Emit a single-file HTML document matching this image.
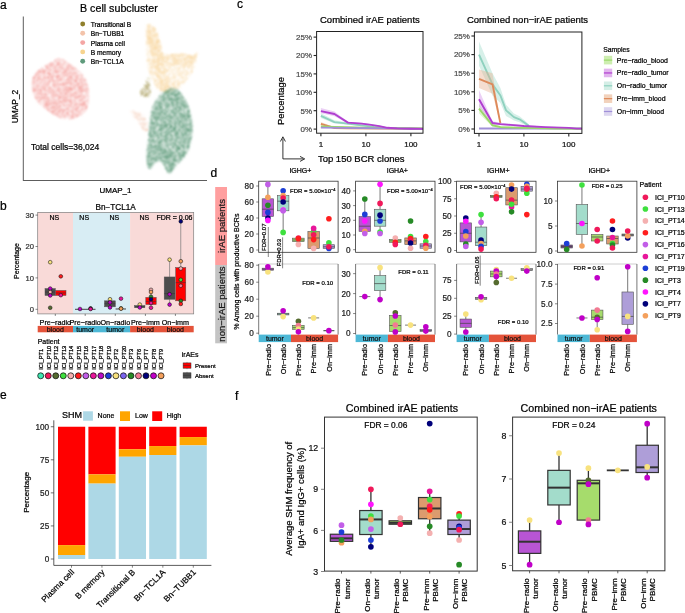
<!DOCTYPE html>
<html><head><meta charset="utf-8"><style>
html,body{margin:0;padding:0;background:#fff;width:685px;height:613px;overflow:hidden}
svg{display:block;will-change:transform}
text{font-family:"Liberation Sans",sans-serif}
</style></head><body>
<svg width="685" height="613" viewBox="0 0 685 613">
<defs><filter id="sp42_1" x="0" y="0" width="685" height="613" filterUnits="userSpaceOnUse"><feTurbulence type="fractalNoise" baseFrequency="1.3" numOctaves="1" seed="1" result="n"/><feColorMatrix in="n" type="matrix" values="0 0 0 0 0  0 0 0 0 0  0 0 0 0 0  0 0 0 5 -2.08" result="m"/><feComposite in="SourceGraphic" in2="m" operator="in" result="c"/><feGaussianBlur in="c" stdDeviation="0.95"/></filter><filter id="sp16_2" x="0" y="0" width="685" height="613" filterUnits="userSpaceOnUse"><feTurbulence type="fractalNoise" baseFrequency="1.3" numOctaves="1" seed="2" result="n"/><feColorMatrix in="n" type="matrix" values="0 0 0 0 0  0 0 0 0 0  0 0 0 0 0  0 0 0 5 -2.34" result="m"/><feComposite in="SourceGraphic" in2="m" operator="in" result="c"/><feGaussianBlur in="c" stdDeviation="0.95"/></filter><filter id="sp32_3" x="0" y="0" width="685" height="613" filterUnits="userSpaceOnUse"><feTurbulence type="fractalNoise" baseFrequency="1.3" numOctaves="1" seed="3" result="n"/><feColorMatrix in="n" type="matrix" values="0 0 0 0 0  0 0 0 0 0  0 0 0 0 0  0 0 0 5 -2.18" result="m"/><feComposite in="SourceGraphic" in2="m" operator="in" result="c"/><feGaussianBlur in="c" stdDeviation="0.95"/></filter><filter id="sp28_4" x="0" y="0" width="685" height="613" filterUnits="userSpaceOnUse"><feTurbulence type="fractalNoise" baseFrequency="1.3" numOctaves="1" seed="4" result="n"/><feColorMatrix in="n" type="matrix" values="0 0 0 0 0  0 0 0 0 0  0 0 0 0 0  0 0 0 5 -2.22" result="m"/><feComposite in="SourceGraphic" in2="m" operator="in" result="c"/><feGaussianBlur in="c" stdDeviation="0.95"/></filter><filter id="sp30_5" x="0" y="0" width="685" height="613" filterUnits="userSpaceOnUse"><feTurbulence type="fractalNoise" baseFrequency="1.3" numOctaves="1" seed="5" result="n"/><feColorMatrix in="n" type="matrix" values="0 0 0 0 0  0 0 0 0 0  0 0 0 0 0  0 0 0 5 -2.20" result="m"/><feComposite in="SourceGraphic" in2="m" operator="in" result="c"/><feGaussianBlur in="c" stdDeviation="0.95"/></filter><filter id="sp20_6" x="0" y="0" width="685" height="613" filterUnits="userSpaceOnUse"><feTurbulence type="fractalNoise" baseFrequency="1.3" numOctaves="1" seed="6" result="n"/><feColorMatrix in="n" type="matrix" values="0 0 0 0 0  0 0 0 0 0  0 0 0 0 0  0 0 0 5 -2.30" result="m"/><feComposite in="SourceGraphic" in2="m" operator="in" result="c"/><feGaussianBlur in="c" stdDeviation="0.95"/></filter><filter id="sp62_7" x="0" y="0" width="685" height="613" filterUnits="userSpaceOnUse"><feTurbulence type="fractalNoise" baseFrequency="1.3" numOctaves="1" seed="7" result="n"/><feColorMatrix in="n" type="matrix" values="0 0 0 0 0  0 0 0 0 0  0 0 0 0 0  0 0 0 5 -1.88" result="m"/><feComposite in="SourceGraphic" in2="m" operator="in" result="c"/><feGaussianBlur in="c" stdDeviation="0.95"/></filter></defs>
<rect width="685" height="613" fill="#fff"/>
<text x="0" y="8.5" font-size="12" stroke="#000" stroke-width="0.22">a</text>
<text x="80" y="12" font-size="10.7" stroke="#000" stroke-width="0.22">B cell subcluster</text>
<line x1="23.3" y1="16.5" x2="23.3" y2="180.8" stroke="#333" stroke-width="0.8"/>
<line x1="23.3" y1="180.5" x2="207" y2="180.5" stroke="#333" stroke-width="0.8"/>
<text x="17.5" y="106.5" font-size="8.4" text-anchor="middle" transform="rotate(-90 17.5 106.5)" stroke="#000" stroke-width="0.22">UMAP_2</text>
<text x="115.5" y="192.5" font-size="8" text-anchor="middle" stroke="#000" stroke-width="0.22">UMAP_1</text>
<text x="31" y="149.7" font-size="8.5" stroke="#000" stroke-width="0.22">Total cells=36,024</text>
<path d="M60,58 C63.33,58.17 66.83,61.83 70,64 C73.17,66.17 76.33,68.33 79,71 C81.67,73.67 84.33,76.33 86,80 C87.67,83.67 88.67,88.83 89,93 C89.33,97.17 88.83,101.67 88,105 C87.17,108.33 86.67,110.67 84,113 C81.33,115.33 76.33,118.33 72,119 C67.67,119.67 62.33,118.67 58,117 C53.67,115.33 49.67,111.83 46,109 C42.33,106.17 38.33,103.5 36,100 C33.67,96.5 32.5,91.83 32,88 C31.5,84.17 31.67,80.17 33,77 C34.33,73.83 37.17,71.33 40,69 C42.83,66.67 46.67,64.83 50,63 C53.33,61.17 56.67,57.83 60,58 Z" fill="#f39a96" filter="url(#sp42_1)"/>
<path d="M146,27 C146.67,24.25 148.38,24.17 150,24.5 C151.62,24.83 153.87,25.92 155.7,29 C157.53,32.08 159.62,38.83 161,43 C162.38,47.17 160.67,52.25 164,54 C167.33,55.75 176.17,53.25 181,53.5 C185.83,53.75 190.25,55.72 193,55.5 C195.75,55.28 197.08,51.12 197.5,52.2 C197.92,53.28 196.25,58.87 195.5,62 C194.75,65.13 194.52,67.95 193,71 C191.48,74.05 188.6,77.47 186.4,80.3 C184.2,83.13 182.53,86.05 179.8,88 C177.07,89.95 173.3,91.5 170,92 C166.7,92.5 163,93 160,91 C157,89 154.17,84.5 152,80 C149.83,75.5 148,70.5 147,64 C146,57.5 146.17,47.17 146,41 C145.83,34.83 145.33,29.75 146,27 Z" fill="#f8d49a" filter="url(#sp16_2)"/>
<path d="M147,27 C147.5,25.08 148.67,24.33 150,24.5 C151.33,24.67 153.67,26.08 155,28 C156.33,29.92 157,32.67 158,36 C159,39.33 160,43.67 161,48 C162,52.33 162.83,57 164,62 C165.17,67 166.83,73.33 168,78 C169.17,82.67 172,87.83 171,90 C170,92.17 164.33,93 162,91 C159.67,89 158.5,82.83 157,78 C155.5,73.17 154.17,67 153,62 C151.83,57 151,52.33 150,48 C149,43.67 147.5,39.5 147,36 C146.5,32.5 146.5,28.92 147,27 Z" fill="#f8d49a" filter="url(#sp32_3)"/>
<path d="M164,56 C166.67,54.58 176.17,53.58 181,53.5 C185.83,53.42 190.25,55.72 193,55.5 C195.75,55.28 197.17,51.45 197.5,52.2 C197.83,52.95 196.25,57.53 195,60 C193.75,62.47 192.5,66.17 190,67 C187.5,67.83 183.33,65.33 180,65 C176.67,64.67 172.5,65.5 170,65 C167.5,64.5 166,63.5 165,62 C164,60.5 161.33,57.42 164,56 Z" fill="#f8d49a" filter="url(#sp28_4)"/>
<path d="M148.5,76.5 C149.5,76.17 149.58,81.42 150,84 C150.42,86.58 151.33,89.83 151,92 C150.67,94.17 149.5,96.33 148,97 C146.5,97.67 143.33,96.83 142,96 C140.67,95.17 139.67,93.67 140,92 C140.33,90.33 142.58,88.58 144,86 C145.42,83.42 147.5,76.83 148.5,76.5 Z" fill="#8f7f2b" filter="url(#sp30_5)"/>
<path d="M131,110 C132.33,109.83 137.33,111.33 140,113 C142.67,114.67 145.67,117.17 147,120 C148.33,122.83 148.5,128.17 148,130 C147.5,131.83 145.67,132.33 144,131 C142.33,129.67 140,124.83 138,122 C136,119.17 133.17,116 132,114 C130.83,112 129.67,110.17 131,110 Z" fill="#f3c3aa" filter="url(#sp20_6)"/>
<path d="M172,88 C175.33,87.5 177.33,89.17 180,92 C182.67,94.83 185.88,99.5 188,105 C190.12,110.5 192.2,118.83 192.7,125 C193.2,131.17 192.12,137 191,142 C189.88,147 188.5,151 186,155 C183.5,159 178.92,162.92 176,166 C173.08,169.08 171.17,174.33 168.5,173.5 C165.83,172.67 163.25,161.75 160,161 C156.75,160.25 151.25,170 149,169 C146.75,168 146.67,159.83 146.5,155 C146.33,150.17 147.48,145 148,140 C148.52,135 148.93,130.33 149.6,125 C150.27,119.67 150.27,113 152,108 C153.73,103 156.67,98.33 160,95 C163.33,91.67 168.67,88.5 172,88 Z" fill="#5f9b7c" filter="url(#sp62_7)"/>
<circle cx="82.7" cy="24" r="2.45" fill="#8f7f2b"/>
<text x="90.7" y="26.9" font-size="6.7" stroke="#000" stroke-width="0.22">Transitional B</text>
<circle cx="82.7" cy="33.3" r="2.45" fill="#f3c3aa"/>
<text x="90.7" y="36.2" font-size="6.7" stroke="#000" stroke-width="0.22">Bn−TUBB1</text>
<circle cx="82.7" cy="42.6" r="2.45" fill="#f4a6a4"/>
<text x="90.7" y="45.5" font-size="6.7" stroke="#000" stroke-width="0.22">Plasma cell</text>
<circle cx="82.7" cy="51.9" r="2.45" fill="#f7d48e"/>
<text x="90.7" y="54.8" font-size="6.7" stroke="#000" stroke-width="0.22">B memory</text>
<circle cx="82.7" cy="61.2" r="2.45" fill="#5f9b7c"/>
<text x="90.7" y="64.1" font-size="6.7" stroke="#000" stroke-width="0.22">Bn−TCL1A</text>
<text x="0" y="209.5" font-size="12" stroke="#000" stroke-width="0.22">b</text>
<text x="115.7" y="210.3" font-size="8.2" text-anchor="middle" stroke="#000" stroke-width="0.22">Bn−TCL1A</text>
<rect x="37.7" y="212.4" width="35.3" height="101.5" fill="#f9dad8"/>
<rect x="73" y="212.4" width="57.1" height="101.5" fill="#d8edf4"/>
<rect x="130.1" y="212.4" width="63.6" height="101.5" fill="#f9dad8"/>
<rect x="37.7" y="212.4" width="156" height="101.5" fill="none" stroke="#7f7f7f" stroke-width="0.7"/>
<line x1="35.5" y1="309.3" x2="37.7" y2="309.3" stroke="#333" stroke-width="0.6"/>
<text x="34" y="312" font-size="7.6" text-anchor="end" fill="#333" stroke="#333" stroke-width="0.22">0</text>
<line x1="35.5" y1="277.9" x2="37.7" y2="277.9" stroke="#333" stroke-width="0.6"/>
<text x="34" y="280.6" font-size="7.6" text-anchor="end" fill="#333" stroke="#333" stroke-width="0.22">10</text>
<line x1="35.5" y1="246.5" x2="37.7" y2="246.5" stroke="#333" stroke-width="0.6"/>
<text x="34" y="249.2" font-size="7.6" text-anchor="end" fill="#333" stroke="#333" stroke-width="0.22">20</text>
<line x1="35.5" y1="215.1" x2="37.7" y2="215.1" stroke="#333" stroke-width="0.6"/>
<text x="34" y="217.8" font-size="7.6" text-anchor="end" fill="#333" stroke="#333" stroke-width="0.22">30</text>
<text x="19" y="261" font-size="7" text-anchor="middle" transform="rotate(-90 19 261)" stroke="#000" stroke-width="0.22">Percentage</text>
<line x1="55.3" y1="313.9" x2="55.3" y2="315.9" stroke="#333" stroke-width="0.6"/>
<line x1="85.2" y1="313.9" x2="85.2" y2="315.9" stroke="#333" stroke-width="0.6"/>
<line x1="115.3" y1="313.9" x2="115.3" y2="315.9" stroke="#333" stroke-width="0.6"/>
<line x1="145.4" y1="313.9" x2="145.4" y2="315.9" stroke="#333" stroke-width="0.6"/>
<line x1="175.4" y1="313.9" x2="175.4" y2="315.9" stroke="#333" stroke-width="0.6"/>
<text x="54.3" y="220" font-size="7" text-anchor="middle" stroke="#000" stroke-width="0.22">NS</text>
<text x="84.2" y="220" font-size="7" text-anchor="middle" stroke="#000" stroke-width="0.22">NS</text>
<text x="114.3" y="220" font-size="7" text-anchor="middle" stroke="#000" stroke-width="0.22">NS</text>
<text x="144.4" y="220" font-size="7" text-anchor="middle" stroke="#000" stroke-width="0.22">NS</text>
<text x="174.5" y="220" font-size="7" text-anchor="middle" stroke="#000" stroke-width="0.22">FDR = 0.06</text>
<text x="55.3" y="324.8" font-size="7.2" text-anchor="middle" stroke="#000" stroke-width="0.22">Pre−radio</text>
<text x="85.2" y="324.8" font-size="7.2" text-anchor="middle" stroke="#000" stroke-width="0.22">Pre−radio</text>
<text x="115.3" y="324.8" font-size="7.2" text-anchor="middle" stroke="#000" stroke-width="0.22">On−radio</text>
<text x="145.4" y="324.8" font-size="7.2" text-anchor="middle" stroke="#000" stroke-width="0.22">Pre−imm</text>
<text x="175.4" y="324.8" font-size="7.2" text-anchor="middle" stroke="#000" stroke-width="0.22">On−imm</text>
<rect x="37.7" y="325.9" width="35.3" height="6.4" fill="#e4533a"/>
<rect x="73" y="325.9" width="57.1" height="6.4" fill="#4db8d6"/>
<rect x="130.1" y="325.9" width="63.6" height="6.4" fill="#e4533a"/>
<text x="55.3" y="331.6" font-size="7" text-anchor="middle" fill="#111" stroke="#111" stroke-width="0.22">blood</text>
<text x="85.2" y="331.6" font-size="7" text-anchor="middle" fill="#111" stroke="#111" stroke-width="0.22">tumor</text>
<text x="115.3" y="331.6" font-size="7" text-anchor="middle" fill="#111" stroke="#111" stroke-width="0.22">tumor</text>
<text x="145.4" y="331.6" font-size="7" text-anchor="middle" fill="#111" stroke="#111" stroke-width="0.22">blood</text>
<text x="175.4" y="331.6" font-size="7" text-anchor="middle" fill="#111" stroke="#111" stroke-width="0.22">blood</text>
<rect x="45" y="288.58" width="10.3" height="6.91" fill="#4d4d4d" stroke="#555" stroke-width="0.5"/>
<line x1="45" y1="292.03" x2="55.3" y2="292.03" stroke="#333" stroke-width="0.5"/>
<rect x="55.6" y="290.46" width="10.4" height="5.02" fill="#ff0000" stroke="#555" stroke-width="0.5"/>
<line x1="55.6" y1="292.97" x2="66" y2="292.97" stroke="#333" stroke-width="0.5"/>
<circle cx="50.2" cy="262.2" r="1.85" fill="#f8e27e" stroke="#111" stroke-width="0.55"/>
<circle cx="50.2" cy="288.58" r="1.85" fill="#c000c8" stroke="#111" stroke-width="0.55"/>
<circle cx="50.2" cy="292.03" r="1.85" fill="#f4b0b0" stroke="#111" stroke-width="0.55"/>
<circle cx="50.2" cy="295.48" r="1.85" fill="#c000c8" stroke="#111" stroke-width="0.55"/>
<circle cx="50.2" cy="307.73" r="1.85" fill="#556b2f" stroke="#111" stroke-width="0.55"/>
<circle cx="60.8" cy="276.33" r="1.85" fill="#ff1e1e" stroke="#111" stroke-width="0.55"/>
<circle cx="60.8" cy="295.17" r="1.85" fill="#e8169a" stroke="#111" stroke-width="0.55"/>
<line x1="75" y1="309.3" x2="95.5" y2="309.3" stroke="#333" stroke-width="0.9"/>
<circle cx="80" cy="308.99" r="1.85" fill="#c000c8" stroke="#111" stroke-width="0.55"/>
<circle cx="90.6" cy="308.36" r="1.85" fill="#111" stroke="#111" stroke-width="0.55"/>
<circle cx="90.6" cy="308.99" r="1.85" fill="#e8169a" stroke="#111" stroke-width="0.55"/>
<line x1="109.9" y1="300.82" x2="109.9" y2="299.25" stroke="#777" stroke-width="0.7"/>
<line x1="109.9" y1="306.79" x2="109.9" y2="308.67" stroke="#777" stroke-width="0.7"/>
<rect x="104.5" y="300.82" width="10.8" height="5.97" fill="#4d4d4d" stroke="#555" stroke-width="0.5"/>
<line x1="104.5" y1="303.65" x2="115.3" y2="303.65" stroke="#333" stroke-width="0.5"/>
<circle cx="110" cy="299.25" r="1.85" fill="#f8e27e" stroke="#111" stroke-width="0.55"/>
<circle cx="110" cy="302.39" r="1.85" fill="#c000c8" stroke="#111" stroke-width="0.55"/>
<circle cx="110" cy="307.42" r="1.85" fill="#c000c8" stroke="#111" stroke-width="0.55"/>
<line x1="115.6" y1="308.99" x2="126" y2="308.99" stroke="#333" stroke-width="0.9"/>
<circle cx="121" cy="308.36" r="1.85" fill="#268a26" stroke="#111" stroke-width="0.55"/>
<circle cx="121" cy="308.67" r="1.85" fill="#f4a05c" stroke="#111" stroke-width="0.55"/>
<circle cx="121" cy="298.62" r="1.85" fill="#e8169a" stroke="#111" stroke-width="0.55"/>
<line x1="139.75" y1="305.53" x2="139.75" y2="304.59" stroke="#777" stroke-width="0.7"/>
<rect x="134.6" y="305.53" width="10.3" height="2.2" fill="#4d4d4d" stroke="#555" stroke-width="0.5"/>
<line x1="134.6" y1="306.79" x2="144.9" y2="306.79" stroke="#333" stroke-width="0.5"/>
<circle cx="139.8" cy="304.59" r="1.85" fill="#f8e27e" stroke="#111" stroke-width="0.55"/>
<circle cx="139.8" cy="307.42" r="1.85" fill="#c000c8" stroke="#111" stroke-width="0.55"/>
<line x1="151" y1="297.37" x2="151" y2="289.83" stroke="#777" stroke-width="0.7"/>
<line x1="151" y1="304.59" x2="151" y2="307.73" stroke="#777" stroke-width="0.7"/>
<rect x="145.8" y="297.37" width="10.4" height="7.22" fill="#ff0000" stroke="#555" stroke-width="0.5"/>
<line x1="145.8" y1="301.45" x2="156.2" y2="301.45" stroke="#333" stroke-width="0.5"/>
<circle cx="151" cy="289.83" r="1.85" fill="#f4b0b0" stroke="#111" stroke-width="0.55"/>
<circle cx="151" cy="292.03" r="1.85" fill="#f4a05c" stroke="#111" stroke-width="0.55"/>
<circle cx="151" cy="296.74" r="1.85" fill="#268a26" stroke="#111" stroke-width="0.55"/>
<circle cx="151" cy="299.25" r="1.85" fill="#00007a" stroke="#111" stroke-width="0.55"/>
<circle cx="151" cy="303.02" r="1.85" fill="#e8169a" stroke="#111" stroke-width="0.55"/>
<circle cx="151" cy="307.73" r="1.85" fill="#e8169a" stroke="#111" stroke-width="0.55"/>
<line x1="169.6" y1="276.96" x2="169.6" y2="259.69" stroke="#777" stroke-width="0.7"/>
<line x1="169.6" y1="299.25" x2="169.6" y2="304.59" stroke="#777" stroke-width="0.7"/>
<rect x="164.2" y="276.96" width="10.8" height="22.29" fill="#4d4d4d" stroke="#555" stroke-width="0.5"/>
<line x1="164.2" y1="293.6" x2="175" y2="293.6" stroke="#333" stroke-width="0.5"/>
<circle cx="169.6" cy="259.69" r="1.85" fill="#f8e27e" stroke="#111" stroke-width="0.55"/>
<circle cx="169.6" cy="294.23" r="1.85" fill="#c000c8" stroke="#111" stroke-width="0.55"/>
<circle cx="169.6" cy="304.59" r="1.85" fill="#c000c8" stroke="#111" stroke-width="0.55"/>
<line x1="180.75" y1="267.54" x2="180.75" y2="221.38" stroke="#777" stroke-width="0.7"/>
<line x1="180.75" y1="300.82" x2="180.75" y2="303.96" stroke="#777" stroke-width="0.7"/>
<rect x="175.7" y="267.54" width="10.1" height="33.28" fill="#ff0000" stroke="#555" stroke-width="0.5"/>
<line x1="175.7" y1="282.61" x2="185.8" y2="282.61" stroke="#333" stroke-width="0.5"/>
<circle cx="180.8" cy="221.38" r="1.85" fill="#00007a" stroke="#111" stroke-width="0.55"/>
<circle cx="180.8" cy="261.26" r="1.85" fill="#f4a05c" stroke="#111" stroke-width="0.55"/>
<circle cx="180.8" cy="268.48" r="1.85" fill="#f4b0b0" stroke="#111" stroke-width="0.55"/>
<circle cx="180.8" cy="279.78" r="1.85" fill="#3ee03e" stroke="#111" stroke-width="0.55"/>
<circle cx="180.8" cy="285.75" r="1.85" fill="#f27a92" stroke="#111" stroke-width="0.55"/>
<circle cx="180.8" cy="300.82" r="1.85" fill="#268a26" stroke="#111" stroke-width="0.55"/>
<circle cx="180.8" cy="303.96" r="1.85" fill="#ff1e1e" stroke="#111" stroke-width="0.55"/>
<text x="37.7" y="343.5" font-size="7" stroke="#000" stroke-width="0.22">Patient</text>
<text x="43" y="369.8" font-size="5.7" transform="rotate(-90 43 369.8)" stroke="#000" stroke-width="0.25">ICI_PT1</text>
<circle cx="40.7" cy="375.8" r="3" fill="#3ee6b0" stroke="#111" stroke-width="0.75"/>
<text x="50.52" y="369.8" font-size="5.7" transform="rotate(-90 50.52 369.8)" stroke="#000" stroke-width="0.25">ICI_PT10</text>
<circle cx="48.22" cy="375.8" r="3" fill="#f0195a" stroke="#111" stroke-width="0.75"/>
<text x="58.04" y="369.8" font-size="5.7" transform="rotate(-90 58.04 369.8)" stroke="#000" stroke-width="0.25">ICI_PT12</text>
<circle cx="55.74" cy="375.8" r="3" fill="#556b2f" stroke="#111" stroke-width="0.75"/>
<text x="65.56" y="369.8" font-size="5.7" transform="rotate(-90 65.56 369.8)" stroke="#000" stroke-width="0.25">ICI_PT13</text>
<circle cx="63.26" cy="375.8" r="3" fill="#3ee03e" stroke="#111" stroke-width="0.75"/>
<text x="73.08" y="369.8" font-size="5.7" transform="rotate(-90 73.08 369.8)" stroke="#000" stroke-width="0.25">ICI_PT14</text>
<circle cx="70.78" cy="375.8" r="3" fill="#f4b0b0" stroke="#111" stroke-width="0.75"/>
<text x="80.6" y="369.8" font-size="5.7" transform="rotate(-90 80.6 369.8)" stroke="#000" stroke-width="0.25">ICI_PT15</text>
<circle cx="78.3" cy="375.8" r="3" fill="#ff1e1e" stroke="#111" stroke-width="0.75"/>
<text x="88.12" y="369.8" font-size="5.7" transform="rotate(-90 88.12 369.8)" stroke="#000" stroke-width="0.25">ICI_PT16</text>
<circle cx="85.82" cy="375.8" r="3" fill="#c25ee8" stroke="#111" stroke-width="0.75"/>
<text x="95.64" y="369.8" font-size="5.7" transform="rotate(-90 95.64 369.8)" stroke="#000" stroke-width="0.25">ICI_PT17</text>
<circle cx="93.34" cy="375.8" r="3" fill="#e8169a" stroke="#111" stroke-width="0.75"/>
<text x="103.16" y="369.8" font-size="5.7" transform="rotate(-90 103.16 369.8)" stroke="#000" stroke-width="0.25">ICI_PT18</text>
<circle cx="100.86" cy="375.8" r="3" fill="#b80cc4" stroke="#111" stroke-width="0.75"/>
<text x="110.68" y="369.8" font-size="5.7" transform="rotate(-90 110.68 369.8)" stroke="#000" stroke-width="0.25">ICI_PT19</text>
<circle cx="108.38" cy="375.8" r="3" fill="#1c3ed6" stroke="#111" stroke-width="0.75"/>
<text x="118.2" y="369.8" font-size="5.7" transform="rotate(-90 118.2 369.8)" stroke="#000" stroke-width="0.25">ICI_PT2</text>
<circle cx="115.9" cy="375.8" r="3" fill="#f8e27e" stroke="#111" stroke-width="0.75"/>
<text x="125.72" y="369.8" font-size="5.7" transform="rotate(-90 125.72 369.8)" stroke="#000" stroke-width="0.25">ICI_PT20</text>
<circle cx="123.42" cy="375.8" r="3" fill="#7a64ee" stroke="#111" stroke-width="0.75"/>
<text x="133.24" y="369.8" font-size="5.7" transform="rotate(-90 133.24 369.8)" stroke="#000" stroke-width="0.25">ICI_PT3</text>
<circle cx="130.94" cy="375.8" r="3" fill="#268a26" stroke="#111" stroke-width="0.75"/>
<text x="140.76" y="369.8" font-size="5.7" transform="rotate(-90 140.76 369.8)" stroke="#000" stroke-width="0.25">ICI_PT6</text>
<circle cx="138.46" cy="375.8" r="3" fill="#f27a92" stroke="#111" stroke-width="0.75"/>
<text x="148.28" y="369.8" font-size="5.7" transform="rotate(-90 148.28 369.8)" stroke="#000" stroke-width="0.25">ICI_PT7</text>
<circle cx="145.98" cy="375.8" r="3" fill="#00007a" stroke="#111" stroke-width="0.75"/>
<text x="155.8" y="369.8" font-size="5.7" transform="rotate(-90 155.8 369.8)" stroke="#000" stroke-width="0.25">ICI_PT8</text>
<circle cx="153.5" cy="375.8" r="3" fill="#c000c8" stroke="#111" stroke-width="0.75"/>
<text x="163.32" y="369.8" font-size="5.7" transform="rotate(-90 163.32 369.8)" stroke="#000" stroke-width="0.25">ICI_PT9</text>
<circle cx="161.02" cy="375.8" r="3" fill="#f4a05c" stroke="#111" stroke-width="0.75"/>
<text x="181.8" y="356.6" font-size="7" stroke="#000" stroke-width="0.22">irAEs</text>
<line x1="187" y1="361.9" x2="187" y2="369.2" stroke="#888" stroke-width="0.6"/>
<rect x="183.1" y="362.9" width="7.9" height="5.3" fill="#ff0000" stroke="#333" stroke-width="0.5"/>
<line x1="183.1" y1="365.55" x2="191" y2="365.55" stroke="#333" stroke-width="0.5"/>
<text x="195" y="367.8" font-size="6" stroke="#000" stroke-width="0.22">Present</text>
<line x1="187" y1="371.8" x2="187" y2="379.1" stroke="#888" stroke-width="0.6"/>
<rect x="183.1" y="372.8" width="7.9" height="5.3" fill="#4d4d4d" stroke="#333" stroke-width="0.5"/>
<line x1="183.1" y1="375.45" x2="191" y2="375.45" stroke="#333" stroke-width="0.5"/>
<text x="195" y="377.7" font-size="6" stroke="#000" stroke-width="0.22">Absent</text>
<text x="0" y="398.5" font-size="12" stroke="#000" stroke-width="0.22">e</text>
<text x="61.9" y="417.9" font-size="9" stroke="#000" stroke-width="0.22">SHM</text>
<rect x="83.1" y="411.3" width="9.8" height="9.4" fill="#add8e6"/>
<text x="97.6" y="417.8" font-size="7" stroke="#000" stroke-width="0.22">None</text>
<rect x="120" y="411.3" width="10" height="9.7" fill="#ffa500"/>
<text x="135" y="417.8" font-size="7" stroke="#000" stroke-width="0.22">Low</text>
<rect x="152.2" y="411.3" width="10" height="9.7" fill="#ff0000"/>
<text x="166.8" y="417.8" font-size="7" stroke="#000" stroke-width="0.22">High</text>
<line x1="53.8" y1="420.3" x2="53.8" y2="565.4" stroke="#333" stroke-width="0.8"/>
<line x1="53.8" y1="565.4" x2="211.4" y2="565.4" stroke="#333" stroke-width="0.8"/>
<line x1="50.8" y1="559" x2="53.8" y2="559" stroke="#333" stroke-width="0.7"/>
<text x="49.2" y="561.9" font-size="8.2" text-anchor="end" fill="#222" stroke="#222" stroke-width="0.22">0</text>
<line x1="50.8" y1="525.93" x2="53.8" y2="525.93" stroke="#333" stroke-width="0.7"/>
<text x="49.2" y="528.83" font-size="8.2" text-anchor="end" fill="#222" stroke="#222" stroke-width="0.22">25</text>
<line x1="50.8" y1="492.87" x2="53.8" y2="492.87" stroke="#333" stroke-width="0.7"/>
<text x="49.2" y="495.77" font-size="8.2" text-anchor="end" fill="#222" stroke="#222" stroke-width="0.22">50</text>
<line x1="50.8" y1="459.81" x2="53.8" y2="459.81" stroke="#333" stroke-width="0.7"/>
<text x="49.2" y="462.7" font-size="8.2" text-anchor="end" fill="#222" stroke="#222" stroke-width="0.22">75</text>
<line x1="50.8" y1="426.74" x2="53.8" y2="426.74" stroke="#333" stroke-width="0.7"/>
<text x="49.2" y="429.64" font-size="8.2" text-anchor="end" fill="#222" stroke="#222" stroke-width="0.22">100</text>
<text x="29.5" y="492.3" font-size="8" text-anchor="middle" transform="rotate(-90 29.5 492.3)" stroke="#000" stroke-width="0.22">Percentage</text>
<rect x="58" y="426.74" width="27.2" height="118.37" fill="#ff0000"/>
<rect x="58" y="545.11" width="27.2" height="9.92" fill="#ffa500"/>
<rect x="58" y="555.03" width="27.2" height="3.97" fill="#add8e6"/>
<line x1="71.5" y1="565.4" x2="71.5" y2="567.7" stroke="#333" stroke-width="0.6"/>
<text x="74.7" y="572.8" font-size="8.3" text-anchor="end" transform="rotate(-45 74.7 572.8)" stroke="#000" stroke-width="0.22">Plasma cell</text>
<rect x="88.4" y="426.74" width="27.2" height="47.61" fill="#ff0000"/>
<rect x="88.4" y="474.35" width="27.2" height="9.26" fill="#ffa500"/>
<rect x="88.4" y="483.61" width="27.2" height="75.39" fill="#add8e6"/>
<line x1="101.95" y1="565.4" x2="101.95" y2="567.7" stroke="#333" stroke-width="0.6"/>
<text x="105.15" y="572.8" font-size="8.3" text-anchor="end" transform="rotate(-45 105.15 572.8)" stroke="#000" stroke-width="0.22">B memory</text>
<rect x="118.8" y="426.74" width="27.2" height="22.48" fill="#ff0000"/>
<rect x="118.8" y="449.22" width="27.2" height="7.54" fill="#ffa500"/>
<rect x="118.8" y="456.76" width="27.2" height="102.24" fill="#add8e6"/>
<line x1="132.4" y1="565.4" x2="132.4" y2="567.7" stroke="#333" stroke-width="0.6"/>
<text x="135.6" y="572.8" font-size="8.3" text-anchor="end" transform="rotate(-45 135.6 572.8)" stroke="#000" stroke-width="0.22">Transitional B</text>
<rect x="149.2" y="426.74" width="27.2" height="19.31" fill="#ff0000"/>
<rect x="149.2" y="446.05" width="27.2" height="8.99" fill="#ffa500"/>
<rect x="149.2" y="455.04" width="27.2" height="103.96" fill="#add8e6"/>
<line x1="162.85" y1="565.4" x2="162.85" y2="567.7" stroke="#333" stroke-width="0.6"/>
<text x="166.05" y="572.8" font-size="8.3" text-anchor="end" transform="rotate(-45 166.05 572.8)" stroke="#000" stroke-width="0.22">Bn−TCL1A</text>
<rect x="179.6" y="426.74" width="27.2" height="10.32" fill="#ff0000"/>
<rect x="179.6" y="437.06" width="27.2" height="8.33" fill="#ffa500"/>
<rect x="179.6" y="445.39" width="27.2" height="113.61" fill="#add8e6"/>
<line x1="193.3" y1="565.4" x2="193.3" y2="567.7" stroke="#333" stroke-width="0.6"/>
<text x="196.5" y="572.8" font-size="8.3" text-anchor="end" transform="rotate(-45 196.5 572.8)" stroke="#000" stroke-width="0.22">Bn−TUBB1</text>
<text x="237" y="7.5" font-size="12" stroke="#000" stroke-width="0.22">c</text>
<text x="369.9" y="22.5" font-size="9.5" text-anchor="middle" stroke="#000" stroke-width="0.22">Combined irAE patients</text>
<clipPath id="cp316"><rect x="316.6" y="31.5" width="106.4" height="101.7"/></clipPath>
<g clip-path="url(#cp316)">
<path d="M320.9,113.28 L334.45,120.27 L347.99,122.48 L361.54,124.68 L373.82,126.16 L387.37,127.63 L410.9,128.55 L424.45,128.73 L424.45,129.1 L410.9,128.92 L387.37,128.36 L373.82,127.26 L361.54,126.16 L347.99,124.68 L334.45,123.58 L320.9,118.06 Z" fill="#9fdccb" fill-opacity="0.42"/>
<path d="M320.9,115.85 L334.45,122.11 L347.99,123.58 L361.54,125.42 L373.82,126.89 L387.37,128 L410.9,128.73 L424.45,128.92" fill="none" stroke="#8fd1bf" stroke-width="1.9" stroke-linejoin="round"/>
<path d="M320.9,122.11 L334.45,127.26 L347.99,127.81 L424.45,128.55 L424.45,128.92 L347.99,128.55 L334.45,128.36 L320.9,125.42 Z" fill="#e8b090" fill-opacity="0.42"/>
<path d="M320.9,123.95 L334.45,128 L347.99,128.18 L424.45,128.73" fill="none" stroke="#dd8a5a" stroke-width="1.9" stroke-linejoin="round"/>
<path d="M320.9,125.42 L334.45,126.16 L365.9,127.26 L424.45,128.36 L424.45,128.73 L365.9,128 L334.45,127.44 L320.9,127.26 Z" fill="#b8e890" fill-opacity="0.42"/>
<path d="M320.9,126.52 L334.45,126.89 L365.9,127.63 L424.45,128.55" fill="none" stroke="#9ad86a" stroke-width="1.9" stroke-linejoin="round"/>
<path d="M320.9,127.26 L424.45,128.55 L424.45,128.92 L320.9,128 Z" fill="#c0b0e8" fill-opacity="0.42"/>
<path d="M320.9,127.63 L424.45,128.73" fill="none" stroke="#a090d8" stroke-width="1.9" stroke-linejoin="round"/>
<path d="M320.9,108.12 L334.45,111.44 L347.99,121.74 L361.54,122.84 L369.46,123.95 L379.45,125.6 L387.37,127.44 L397.35,128 L410.9,128.55 L424.45,128.73 L424.45,129.1 L410.9,128.92 L397.35,128.55 L387.37,128.18 L379.45,126.71 L369.46,125.42 L361.54,124.32 L347.99,123.58 L334.45,116.22 L320.9,113.28 Z" fill="#d090e8" fill-opacity="0.42"/>
<path d="M320.9,111.07 L334.45,114.01 L347.99,122.66 L361.54,123.58 L369.46,124.68 L379.45,126.16 L387.37,127.81 L397.35,128.36 L410.9,128.73 L424.45,128.92" fill="none" stroke="#b03fd0" stroke-width="1.9" stroke-linejoin="round"/>
</g>
<rect x="316.6" y="31.5" width="106.4" height="101.7" fill="none" stroke="#222" stroke-width="1"/>
<line x1="313.6" y1="129.1" x2="316.6" y2="129.1" stroke="#222" stroke-width="1.1"/>
<text x="312.1" y="131.9" font-size="8" text-anchor="end" fill="#4d4d4d" stroke="#4d4d4d" stroke-width="0.22">0%</text>
<line x1="313.6" y1="110.7" x2="316.6" y2="110.7" stroke="#222" stroke-width="1.1"/>
<text x="312.1" y="113.5" font-size="8" text-anchor="end" fill="#4d4d4d" stroke="#4d4d4d" stroke-width="0.22">5%</text>
<line x1="313.6" y1="92.3" x2="316.6" y2="92.3" stroke="#222" stroke-width="1.1"/>
<text x="312.1" y="95.1" font-size="8" text-anchor="end" fill="#4d4d4d" stroke="#4d4d4d" stroke-width="0.22">10%</text>
<line x1="313.6" y1="73.9" x2="316.6" y2="73.9" stroke="#222" stroke-width="1.1"/>
<text x="312.1" y="76.7" font-size="8" text-anchor="end" fill="#4d4d4d" stroke="#4d4d4d" stroke-width="0.22">15%</text>
<line x1="313.6" y1="55.5" x2="316.6" y2="55.5" stroke="#222" stroke-width="1.1"/>
<text x="312.1" y="58.3" font-size="8" text-anchor="end" fill="#4d4d4d" stroke="#4d4d4d" stroke-width="0.22">20%</text>
<line x1="313.6" y1="37.1" x2="316.6" y2="37.1" stroke="#222" stroke-width="1.1"/>
<text x="312.1" y="39.9" font-size="8" text-anchor="end" fill="#4d4d4d" stroke="#4d4d4d" stroke-width="0.22">25%</text>
<line x1="320.9" y1="133.2" x2="320.9" y2="136.2" stroke="#222" stroke-width="1.1"/>
<text x="320.9" y="147.3" font-size="8" text-anchor="middle" fill="#111" stroke="#111" stroke-width="0.22">1</text>
<line x1="365.9" y1="133.2" x2="365.9" y2="136.2" stroke="#222" stroke-width="1.1"/>
<text x="365.9" y="147.3" font-size="8" text-anchor="middle" fill="#111" stroke="#111" stroke-width="0.22">10</text>
<line x1="410.9" y1="133.2" x2="410.9" y2="136.2" stroke="#222" stroke-width="1.1"/>
<text x="410.9" y="147.3" font-size="8" text-anchor="middle" fill="#111" stroke="#111" stroke-width="0.22">100</text>
<text x="527.5" y="22.5" font-size="9.5" text-anchor="middle" stroke="#000" stroke-width="0.22">Combined non−irAE patients</text>
<clipPath id="cp474"><rect x="474.4" y="32" width="107.5" height="101.4"/></clipPath>
<g clip-path="url(#cp474)">
<path d="M479,128.07 L582.32,128.07 L582.32,128.81 L479,128.81 Z" fill="#c0b0e8" fill-opacity="0.42"/>
<path d="M479,128.44 L582.32,128.44" fill="none" stroke="#a090d8" stroke-width="1.9" stroke-linejoin="round"/>
<path d="M479,103.7 L492.52,123.42 L500.42,126.02 L523.9,127.51 L555.28,128.44 L582.32,128.63 L582.32,129 L555.28,128.81 L523.9,128.26 L500.42,127.88 L492.52,126.77 L479,113.38 Z" fill="#b8e890" fill-opacity="0.42"/>
<path d="M479,108.54 L492.52,125.28 L500.42,127.14 L523.9,127.88 L555.28,128.63 L582.32,128.81" fill="none" stroke="#9ad86a" stroke-width="1.9" stroke-linejoin="round"/>
<path d="M479,41.58 L492.52,73.2 L500.42,88.08 L506.03,104.82 L513.94,113.38 L519.55,116.35 L523.9,119.7 L529.02,124.54 L529.02,127.14 L523.9,124.54 L519.55,122.3 L513.94,120.44 L506.03,115.98 L500.42,102.96 L492.52,95.52 L479,65.76 Z" fill="#9fdccb" fill-opacity="0.42"/>
<path d="M479,54.6 L492.52,84.36 L500.42,95.52 L506.03,110.4 L513.94,117.1 L519.55,119.33 L523.9,122.3 L529.02,126.02" fill="none" stroke="#8fd1bf" stroke-width="1.9" stroke-linejoin="round"/>
<path d="M479,69.48 L492.52,73.2 L500.42,121.56 L500.42,124.91 L492.52,93.66 L479,88.08 Z" fill="#e8b090" fill-opacity="0.42"/>
<path d="M479,78.78 L492.52,84.36 L500.42,123.42" fill="none" stroke="#dd8a5a" stroke-width="1.9" stroke-linejoin="round"/>
<path d="M479,89.94 L492.52,121.19 L500.42,122.68 L510.38,123.79 L523.9,125.28 L545.32,126.58 L568.8,127.51 L576.71,128.44 L582.32,128.44 L582.32,128.81 L576.71,128.81 L568.8,128.26 L545.32,127.7 L523.9,126.77 L510.38,126.02 L500.42,125.28 L492.52,124.54 L479,106.68 Z" fill="#d090e8" fill-opacity="0.42"/>
<path d="M479,99.24 L492.52,123.05 L500.42,124.16 L510.38,124.91 L523.9,126.02 L545.32,127.14 L568.8,127.88 L576.71,128.63 L582.32,128.63" fill="none" stroke="#b03fd0" stroke-width="1.9" stroke-linejoin="round"/>
</g>
<rect x="474.4" y="32" width="107.5" height="101.4" fill="none" stroke="#222" stroke-width="1"/>
<line x1="471.4" y1="129" x2="474.4" y2="129" stroke="#222" stroke-width="1.1"/>
<text x="469.9" y="131.8" font-size="8" text-anchor="end" fill="#4d4d4d" stroke="#4d4d4d" stroke-width="0.22">0%</text>
<line x1="471.4" y1="110.4" x2="474.4" y2="110.4" stroke="#222" stroke-width="1.1"/>
<text x="469.9" y="113.2" font-size="8" text-anchor="end" fill="#4d4d4d" stroke="#4d4d4d" stroke-width="0.22">5%</text>
<line x1="471.4" y1="91.8" x2="474.4" y2="91.8" stroke="#222" stroke-width="1.1"/>
<text x="469.9" y="94.6" font-size="8" text-anchor="end" fill="#4d4d4d" stroke="#4d4d4d" stroke-width="0.22">10%</text>
<line x1="471.4" y1="73.2" x2="474.4" y2="73.2" stroke="#222" stroke-width="1.1"/>
<text x="469.9" y="76" font-size="8" text-anchor="end" fill="#4d4d4d" stroke="#4d4d4d" stroke-width="0.22">15%</text>
<line x1="471.4" y1="54.6" x2="474.4" y2="54.6" stroke="#222" stroke-width="1.1"/>
<text x="469.9" y="57.4" font-size="8" text-anchor="end" fill="#4d4d4d" stroke="#4d4d4d" stroke-width="0.22">20%</text>
<line x1="471.4" y1="36" x2="474.4" y2="36" stroke="#222" stroke-width="1.1"/>
<text x="469.9" y="38.8" font-size="8" text-anchor="end" fill="#4d4d4d" stroke="#4d4d4d" stroke-width="0.22">25%</text>
<line x1="479" y1="133.4" x2="479" y2="136.4" stroke="#222" stroke-width="1.1"/>
<text x="479" y="147.3" font-size="8" text-anchor="middle" fill="#111" stroke="#111" stroke-width="0.22">1</text>
<line x1="523.9" y1="133.4" x2="523.9" y2="136.4" stroke="#222" stroke-width="1.1"/>
<text x="523.9" y="147.3" font-size="8" text-anchor="middle" fill="#111" stroke="#111" stroke-width="0.22">10</text>
<line x1="568.8" y1="133.4" x2="568.8" y2="136.4" stroke="#222" stroke-width="1.1"/>
<text x="568.8" y="147.3" font-size="8" text-anchor="middle" fill="#111" stroke="#111" stroke-width="0.22">100</text>
<text x="284" y="101" font-size="9.4" text-anchor="middle" transform="rotate(-90 284 101)" stroke="#000" stroke-width="0.22">Percentage</text>
<line x1="282.9" y1="138.5" x2="282.9" y2="158.9" stroke="#000" stroke-width="0.8"/>
<line x1="282.9" y1="158.9" x2="303" y2="158.9" stroke="#000" stroke-width="0.8"/>
<path d="M280.4,141.5 L282.9,136.8 L285.4,141.5" fill="none" stroke="#000" stroke-width="0.8"/>
<path d="M300,156.4 L304.7,158.9 L300,161.4" fill="none" stroke="#000" stroke-width="0.8"/>
<text x="317.9" y="162.2" font-size="9.5" stroke="#000" stroke-width="0.22">Top 150 BCR clones</text>
<text x="603.2" y="51.8" font-size="6.8" stroke="#000" stroke-width="0.22">Samples</text>
<rect x="603.9" y="55.8" width="8.3" height="8.6" fill="#cdeeb0"/>
<line x1="603.9" y1="60.1" x2="612.2" y2="60.1" stroke="#9ad86a" stroke-width="1.2"/>
<text x="616.8" y="62.5" font-size="6.95" stroke="#000" stroke-width="0.22">Pre−radio_blood</text>
<rect x="603.9" y="68.65" width="8.3" height="8.6" fill="#e2b4ee"/>
<line x1="603.9" y1="72.95" x2="612.2" y2="72.95" stroke="#b03fd0" stroke-width="1.2"/>
<text x="616.8" y="75.35" font-size="6.95" stroke="#000" stroke-width="0.22">Pre−radio_tumor</text>
<rect x="603.9" y="81.5" width="8.3" height="8.6" fill="#d4eee6"/>
<line x1="603.9" y1="85.8" x2="612.2" y2="85.8" stroke="#8fd1bf" stroke-width="1.2"/>
<text x="616.8" y="88.2" font-size="6.95" stroke="#000" stroke-width="0.22">On−radio_tumor</text>
<rect x="603.9" y="94.35" width="8.3" height="8.6" fill="#f2d2bc"/>
<line x1="603.9" y1="98.65" x2="612.2" y2="98.65" stroke="#dd8a5a" stroke-width="1.2"/>
<text x="616.8" y="101.05" font-size="6.95" stroke="#000" stroke-width="0.22">Pre−imm_blood</text>
<rect x="603.9" y="107.2" width="8.3" height="8.6" fill="#ddd6f0"/>
<line x1="603.9" y1="111.5" x2="612.2" y2="111.5" stroke="#a090d8" stroke-width="1.2"/>
<text x="616.8" y="113.9" font-size="6.95" stroke="#000" stroke-width="0.22">On−imm_blood</text>
<text x="210.5" y="176.6" font-size="12" stroke="#000" stroke-width="0.22">d</text>
<rect x="215.2" y="187" width="11.8" height="78" fill="#ff9f9f"/>
<rect x="215.2" y="265" width="11.8" height="78.3" fill="#c4c4c4"/>
<text x="224.8" y="226" font-size="9.5" text-anchor="middle" fill="#1a1a1a" transform="rotate(-90 224.8 226)" stroke="#1a1a1a" stroke-width="0.22">irAE patients</text>
<text x="224.8" y="304" font-size="9.5" text-anchor="middle" fill="#1a1a1a" transform="rotate(-90 224.8 304)" stroke="#1a1a1a" stroke-width="0.22">non−irAE patients</text>
<text x="239.5" y="271.7" font-size="7.1" text-anchor="middle" transform="rotate(-90 239.5 271.7)" stroke="#000" stroke-width="0.22">% Among cells with productive BCRs</text>
<text x="300.4" y="172.7" font-size="7" text-anchor="middle" stroke="#000" stroke-width="0.22">IGHG+</text>
<rect x="258.7" y="181.2" width="79.4" height="71.1" fill="none" stroke="#333" stroke-width="0.8"/>
<line x1="258.7" y1="264" x2="338.1" y2="264" stroke="#c8c8c8" stroke-width="0.9"/>
<line x1="258.7" y1="264" x2="258.7" y2="334.6" stroke="#555" stroke-width="0.8"/>
<line x1="338.1" y1="264" x2="338.1" y2="334.6" stroke="#555" stroke-width="0.8"/>
<line x1="256.2" y1="250" x2="258.7" y2="250" stroke="#333" stroke-width="0.6"/>
<text x="253.7" y="252.9" font-size="8.2" text-anchor="end" fill="#222" stroke="#222" stroke-width="0.22">0</text>
<line x1="256.2" y1="234" x2="258.7" y2="234" stroke="#333" stroke-width="0.6"/>
<text x="253.7" y="236.9" font-size="8.2" text-anchor="end" fill="#222" stroke="#222" stroke-width="0.22">20</text>
<line x1="256.2" y1="218" x2="258.7" y2="218" stroke="#333" stroke-width="0.6"/>
<text x="253.7" y="220.9" font-size="8.2" text-anchor="end" fill="#222" stroke="#222" stroke-width="0.22">40</text>
<line x1="256.2" y1="202" x2="258.7" y2="202" stroke="#333" stroke-width="0.6"/>
<text x="253.7" y="204.9" font-size="8.2" text-anchor="end" fill="#222" stroke="#222" stroke-width="0.22">60</text>
<line x1="256.2" y1="186" x2="258.7" y2="186" stroke="#333" stroke-width="0.6"/>
<text x="253.7" y="188.9" font-size="8.2" text-anchor="end" fill="#222" stroke="#222" stroke-width="0.22">80</text>
<line x1="256.2" y1="333.2" x2="258.7" y2="333.2" stroke="#333" stroke-width="0.6"/>
<text x="253.7" y="336.1" font-size="8.2" text-anchor="end" fill="#222" stroke="#222" stroke-width="0.22">0</text>
<line x1="256.2" y1="316.2" x2="258.7" y2="316.2" stroke="#333" stroke-width="0.6"/>
<text x="253.7" y="319.1" font-size="8.2" text-anchor="end" fill="#222" stroke="#222" stroke-width="0.22">20</text>
<line x1="256.2" y1="299.2" x2="258.7" y2="299.2" stroke="#333" stroke-width="0.6"/>
<text x="253.7" y="302.1" font-size="8.2" text-anchor="end" fill="#222" stroke="#222" stroke-width="0.22">40</text>
<line x1="256.2" y1="282.2" x2="258.7" y2="282.2" stroke="#333" stroke-width="0.6"/>
<text x="253.7" y="285.1" font-size="8.2" text-anchor="end" fill="#222" stroke="#222" stroke-width="0.22">60</text>
<line x1="256.2" y1="265.2" x2="258.7" y2="265.2" stroke="#333" stroke-width="0.6"/>
<text x="253.7" y="268.1" font-size="8.2" text-anchor="end" fill="#222" stroke="#222" stroke-width="0.22">80</text>
<rect x="258.7" y="334.6" width="32.3" height="7.5" fill="#4db8d6"/>
<rect x="291" y="334.6" width="47.1" height="7.5" fill="#e4533a"/>
<text x="274.9" y="340.8" font-size="7" text-anchor="middle" fill="#111" stroke="#111" stroke-width="0.22">tumor</text>
<text x="314.55" y="340.8" font-size="7" text-anchor="middle" fill="#111" stroke="#111" stroke-width="0.22">blood</text>
<text x="270.5" y="344" font-size="7.3" text-anchor="end" transform="rotate(-90 270.5 344)" stroke="#000" stroke-width="0.22">Pre−radio</text>
<text x="285.75" y="344" font-size="7.3" text-anchor="end" transform="rotate(-90 285.75 344)" stroke="#000" stroke-width="0.22">On−radio</text>
<text x="301" y="344" font-size="7.3" text-anchor="end" transform="rotate(-90 301 344)" stroke="#000" stroke-width="0.22">Pre−radio</text>
<text x="316.25" y="344" font-size="7.3" text-anchor="end" transform="rotate(-90 316.25 344)" stroke="#000" stroke-width="0.22">Pre−imm</text>
<text x="331.5" y="344" font-size="7.3" text-anchor="end" transform="rotate(-90 331.5 344)" stroke="#000" stroke-width="0.22">On−imm</text>
<text x="397.3" y="172.7" font-size="7" text-anchor="middle" stroke="#000" stroke-width="0.22">IGHA+</text>
<rect x="355.6" y="181.2" width="79.4" height="71.1" fill="none" stroke="#333" stroke-width="0.8"/>
<line x1="355.6" y1="264" x2="435" y2="264" stroke="#c8c8c8" stroke-width="0.9"/>
<line x1="355.6" y1="264" x2="355.6" y2="334.6" stroke="#555" stroke-width="0.8"/>
<line x1="435" y1="264" x2="435" y2="334.6" stroke="#555" stroke-width="0.8"/>
<line x1="353.1" y1="249.7" x2="355.6" y2="249.7" stroke="#333" stroke-width="0.6"/>
<text x="350.6" y="252.6" font-size="8.2" text-anchor="end" fill="#222" stroke="#222" stroke-width="0.22">0</text>
<line x1="353.1" y1="235" x2="355.6" y2="235" stroke="#333" stroke-width="0.6"/>
<text x="350.6" y="237.9" font-size="8.2" text-anchor="end" fill="#222" stroke="#222" stroke-width="0.22">10</text>
<line x1="353.1" y1="220.3" x2="355.6" y2="220.3" stroke="#333" stroke-width="0.6"/>
<text x="350.6" y="223.2" font-size="8.2" text-anchor="end" fill="#222" stroke="#222" stroke-width="0.22">20</text>
<line x1="353.1" y1="205.6" x2="355.6" y2="205.6" stroke="#333" stroke-width="0.6"/>
<text x="350.6" y="208.5" font-size="8.2" text-anchor="end" fill="#222" stroke="#222" stroke-width="0.22">30</text>
<line x1="353.1" y1="190.9" x2="355.6" y2="190.9" stroke="#333" stroke-width="0.6"/>
<text x="350.6" y="193.8" font-size="8.2" text-anchor="end" fill="#222" stroke="#222" stroke-width="0.22">40</text>
<line x1="353.1" y1="333.5" x2="355.6" y2="333.5" stroke="#333" stroke-width="0.6"/>
<text x="350.6" y="336.4" font-size="8.2" text-anchor="end" fill="#222" stroke="#222" stroke-width="0.22">0</text>
<line x1="353.1" y1="313.55" x2="355.6" y2="313.55" stroke="#333" stroke-width="0.6"/>
<text x="350.6" y="316.45" font-size="8.2" text-anchor="end" fill="#222" stroke="#222" stroke-width="0.22">10</text>
<line x1="353.1" y1="293.6" x2="355.6" y2="293.6" stroke="#333" stroke-width="0.6"/>
<text x="350.6" y="296.5" font-size="8.2" text-anchor="end" fill="#222" stroke="#222" stroke-width="0.22">20</text>
<line x1="353.1" y1="273.65" x2="355.6" y2="273.65" stroke="#333" stroke-width="0.6"/>
<text x="350.6" y="276.55" font-size="8.2" text-anchor="end" fill="#222" stroke="#222" stroke-width="0.22">30</text>
<rect x="355.6" y="334.6" width="32.3" height="7.5" fill="#4db8d6"/>
<rect x="387.9" y="334.6" width="47.1" height="7.5" fill="#e4533a"/>
<text x="371.8" y="340.8" font-size="7" text-anchor="middle" fill="#111" stroke="#111" stroke-width="0.22">tumor</text>
<text x="411.45" y="340.8" font-size="7" text-anchor="middle" fill="#111" stroke="#111" stroke-width="0.22">blood</text>
<text x="367.4" y="344" font-size="7.3" text-anchor="end" transform="rotate(-90 367.4 344)" stroke="#000" stroke-width="0.22">Pre−radio</text>
<text x="382.65" y="344" font-size="7.3" text-anchor="end" transform="rotate(-90 382.65 344)" stroke="#000" stroke-width="0.22">On−radio</text>
<text x="397.9" y="344" font-size="7.3" text-anchor="end" transform="rotate(-90 397.9 344)" stroke="#000" stroke-width="0.22">Pre−radio</text>
<text x="413.15" y="344" font-size="7.3" text-anchor="end" transform="rotate(-90 413.15 344)" stroke="#000" stroke-width="0.22">Pre−imm</text>
<text x="428.4" y="344" font-size="7.3" text-anchor="end" transform="rotate(-90 428.4 344)" stroke="#000" stroke-width="0.22">On−imm</text>
<text x="498.3" y="172.7" font-size="7" text-anchor="middle" stroke="#000" stroke-width="0.22">IGHM+</text>
<rect x="456.6" y="181.2" width="79.4" height="71.1" fill="none" stroke="#333" stroke-width="0.8"/>
<line x1="456.6" y1="264" x2="536" y2="264" stroke="#c8c8c8" stroke-width="0.9"/>
<line x1="456.6" y1="264" x2="456.6" y2="334.6" stroke="#555" stroke-width="0.8"/>
<line x1="536" y1="264" x2="536" y2="334.6" stroke="#555" stroke-width="0.8"/>
<line x1="454.1" y1="250.5" x2="456.6" y2="250.5" stroke="#333" stroke-width="0.6"/>
<text x="451.6" y="253.4" font-size="8.2" text-anchor="end" fill="#222" stroke="#222" stroke-width="0.22">0</text>
<line x1="454.1" y1="233.25" x2="456.6" y2="233.25" stroke="#333" stroke-width="0.6"/>
<text x="451.6" y="236.15" font-size="8.2" text-anchor="end" fill="#222" stroke="#222" stroke-width="0.22">25</text>
<line x1="454.1" y1="216" x2="456.6" y2="216" stroke="#333" stroke-width="0.6"/>
<text x="451.6" y="218.9" font-size="8.2" text-anchor="end" fill="#222" stroke="#222" stroke-width="0.22">50</text>
<line x1="454.1" y1="198.75" x2="456.6" y2="198.75" stroke="#333" stroke-width="0.6"/>
<text x="451.6" y="201.65" font-size="8.2" text-anchor="end" fill="#222" stroke="#222" stroke-width="0.22">75</text>
<line x1="454.1" y1="181.5" x2="456.6" y2="181.5" stroke="#333" stroke-width="0.6"/>
<text x="451.6" y="184.4" font-size="8.2" text-anchor="end" fill="#222" stroke="#222" stroke-width="0.22">100</text>
<line x1="454.1" y1="334.1" x2="456.6" y2="334.1" stroke="#333" stroke-width="0.6"/>
<text x="451.6" y="337" font-size="8.2" text-anchor="end" fill="#222" stroke="#222" stroke-width="0.22">0</text>
<line x1="454.1" y1="316.2" x2="456.6" y2="316.2" stroke="#333" stroke-width="0.6"/>
<text x="451.6" y="319.1" font-size="8.2" text-anchor="end" fill="#222" stroke="#222" stroke-width="0.22">25</text>
<line x1="454.1" y1="298.3" x2="456.6" y2="298.3" stroke="#333" stroke-width="0.6"/>
<text x="451.6" y="301.2" font-size="8.2" text-anchor="end" fill="#222" stroke="#222" stroke-width="0.22">50</text>
<line x1="454.1" y1="280.4" x2="456.6" y2="280.4" stroke="#333" stroke-width="0.6"/>
<text x="451.6" y="283.3" font-size="8.2" text-anchor="end" fill="#222" stroke="#222" stroke-width="0.22">75</text>
<rect x="456.6" y="334.6" width="32.3" height="7.5" fill="#4db8d6"/>
<rect x="488.9" y="334.6" width="47.1" height="7.5" fill="#e4533a"/>
<text x="472.8" y="340.8" font-size="7" text-anchor="middle" fill="#111" stroke="#111" stroke-width="0.22">tumor</text>
<text x="512.45" y="340.8" font-size="7" text-anchor="middle" fill="#111" stroke="#111" stroke-width="0.22">blood</text>
<text x="468.4" y="344" font-size="7.3" text-anchor="end" transform="rotate(-90 468.4 344)" stroke="#000" stroke-width="0.22">Pre−radio</text>
<text x="483.65" y="344" font-size="7.3" text-anchor="end" transform="rotate(-90 483.65 344)" stroke="#000" stroke-width="0.22">On−radio</text>
<text x="498.9" y="344" font-size="7.3" text-anchor="end" transform="rotate(-90 498.9 344)" stroke="#000" stroke-width="0.22">Pre−radio</text>
<text x="514.15" y="344" font-size="7.3" text-anchor="end" transform="rotate(-90 514.15 344)" stroke="#000" stroke-width="0.22">Pre−imm</text>
<text x="529.4" y="344" font-size="7.3" text-anchor="end" transform="rotate(-90 529.4 344)" stroke="#000" stroke-width="0.22">On−imm</text>
<text x="599.2" y="172.7" font-size="7" text-anchor="middle" stroke="#000" stroke-width="0.22">IGHD+</text>
<rect x="557.5" y="181.2" width="79.4" height="71.1" fill="none" stroke="#333" stroke-width="0.8"/>
<line x1="557.5" y1="264" x2="636.9" y2="264" stroke="#c8c8c8" stroke-width="0.9"/>
<line x1="557.5" y1="264" x2="557.5" y2="334.6" stroke="#555" stroke-width="0.8"/>
<line x1="636.9" y1="264" x2="636.9" y2="334.6" stroke="#555" stroke-width="0.8"/>
<line x1="555" y1="251" x2="557.5" y2="251" stroke="#333" stroke-width="0.6"/>
<text x="552.5" y="253.9" font-size="8.2" text-anchor="end" fill="#222" stroke="#222" stroke-width="0.22">0</text>
<line x1="555" y1="226" x2="557.5" y2="226" stroke="#333" stroke-width="0.6"/>
<text x="552.5" y="228.9" font-size="8.2" text-anchor="end" fill="#222" stroke="#222" stroke-width="0.22">5</text>
<line x1="555" y1="201" x2="557.5" y2="201" stroke="#333" stroke-width="0.6"/>
<text x="552.5" y="203.9" font-size="8.2" text-anchor="end" fill="#222" stroke="#222" stroke-width="0.22">10</text>
<line x1="555" y1="323.5" x2="557.5" y2="323.5" stroke="#333" stroke-width="0.6"/>
<text x="552.5" y="326.4" font-size="8.2" text-anchor="end" fill="#222" stroke="#222" stroke-width="0.22">2.5</text>
<line x1="555" y1="303.8" x2="557.5" y2="303.8" stroke="#333" stroke-width="0.6"/>
<text x="552.5" y="306.7" font-size="8.2" text-anchor="end" fill="#222" stroke="#222" stroke-width="0.22">5.0</text>
<line x1="555" y1="284.1" x2="557.5" y2="284.1" stroke="#333" stroke-width="0.6"/>
<text x="552.5" y="287" font-size="8.2" text-anchor="end" fill="#222" stroke="#222" stroke-width="0.22">7.5</text>
<line x1="555" y1="264.4" x2="557.5" y2="264.4" stroke="#333" stroke-width="0.6"/>
<text x="552.5" y="267.3" font-size="8.2" text-anchor="end" fill="#222" stroke="#222" stroke-width="0.22">10.0</text>
<rect x="557.5" y="334.6" width="32.3" height="7.5" fill="#4db8d6"/>
<rect x="589.8" y="334.6" width="47.1" height="7.5" fill="#e4533a"/>
<text x="573.7" y="340.8" font-size="7" text-anchor="middle" fill="#111" stroke="#111" stroke-width="0.22">tumor</text>
<text x="613.35" y="340.8" font-size="7" text-anchor="middle" fill="#111" stroke="#111" stroke-width="0.22">blood</text>
<text x="569.3" y="344" font-size="7.3" text-anchor="end" transform="rotate(-90 569.3 344)" stroke="#000" stroke-width="0.22">Pre−radio</text>
<text x="584.55" y="344" font-size="7.3" text-anchor="end" transform="rotate(-90 584.55 344)" stroke="#000" stroke-width="0.22">On−radio</text>
<text x="599.8" y="344" font-size="7.3" text-anchor="end" transform="rotate(-90 599.8 344)" stroke="#000" stroke-width="0.22">Pre−radio</text>
<text x="615.05" y="344" font-size="7.3" text-anchor="end" transform="rotate(-90 615.05 344)" stroke="#000" stroke-width="0.22">Pre−imm</text>
<text x="630.3" y="344" font-size="7.3" text-anchor="end" transform="rotate(-90 630.3 344)" stroke="#000" stroke-width="0.22">On−imm</text>
<line x1="267.9" y1="198.8" x2="267.9" y2="184.4" stroke="#555" stroke-width="0.8"/>
<line x1="267.9" y1="216.4" x2="267.9" y2="220.4" stroke="#555" stroke-width="0.8"/>
<rect x="262.15" y="198.8" width="11.5" height="17.6" fill="#b855d4" stroke="#555" stroke-width="0.6"/>
<line x1="262.15" y1="209.2" x2="273.65" y2="209.2" stroke="#444" stroke-width="0.7"/>
<circle cx="267.9" cy="184.4" r="2.8" fill="#c25ee8"/>
<circle cx="267.9" cy="197.2" r="2.8" fill="#f4a05c"/>
<circle cx="267.9" cy="205.2" r="2.8" fill="#268a26"/>
<circle cx="267.9" cy="212.4" r="2.8" fill="#1c3ed6"/>
<circle cx="267.9" cy="218" r="2.8" fill="#00007a"/>
<circle cx="267.9" cy="220.4" r="2.8" fill="#ff14ff"/>
<line x1="283.15" y1="195.6" x2="283.15" y2="190.8" stroke="#555" stroke-width="0.8"/>
<line x1="283.15" y1="210.8" x2="283.15" y2="232.4" stroke="#555" stroke-width="0.8"/>
<rect x="277.4" y="195.6" width="11.5" height="15.2" fill="#a3dccb" stroke="#555" stroke-width="0.6"/>
<line x1="277.4" y1="201.2" x2="288.9" y2="201.2" stroke="#444" stroke-width="0.7"/>
<circle cx="283.15" cy="190.8" r="2.8" fill="#1c3ed6"/>
<circle cx="283.15" cy="195.6" r="2.8" fill="#f4a05c"/>
<circle cx="283.15" cy="198" r="2.8" fill="#f0195a"/>
<circle cx="283.15" cy="202" r="2.8" fill="#00007a"/>
<circle cx="283.15" cy="210" r="2.8" fill="#ff14ff"/>
<circle cx="283.15" cy="210.8" r="2.8" fill="#c25ee8"/>
<circle cx="283.15" cy="232.4" r="2.8" fill="#3ee03e"/>
<rect x="292.65" y="238.16" width="11.5" height="3.44" fill="#a6dc6c" stroke="#555" stroke-width="0.6"/>
<line x1="292.65" y1="240" x2="304.15" y2="240" stroke="#444" stroke-width="0.7"/>
<circle cx="298.4" cy="244.4" r="2.8" fill="#f4b0b0"/>
<circle cx="298.4" cy="238" r="2.8" fill="#f0195a"/>
<circle cx="298.4" cy="238.8" r="2.8" fill="#ff1e1e"/>
<rect x="307.9" y="231.6" width="11.5" height="16.8" fill="#dc9b6e" stroke="#555" stroke-width="0.6"/>
<line x1="307.9" y1="238" x2="319.4" y2="238" stroke="#444" stroke-width="0.7"/>
<circle cx="313.65" cy="231.6" r="2.8" fill="#3ee03e"/>
<circle cx="313.65" cy="228.4" r="2.8" fill="#e8169a"/>
<circle cx="313.65" cy="248.4" r="2.8" fill="#f4b0b0"/>
<circle cx="313.65" cy="234.8" r="2.8" fill="#f0195a"/>
<circle cx="313.65" cy="239.6" r="2.8" fill="#ff1e1e"/>
<rect x="323.15" y="244.72" width="11.5" height="3.68" fill="#ae9ed8" stroke="#555" stroke-width="0.6"/>
<line x1="323.15" y1="246.8" x2="334.65" y2="246.8" stroke="#444" stroke-width="0.7"/>
<circle cx="328.9" cy="218.8" r="2.8" fill="#ff1e1e"/>
<circle cx="328.9" cy="242.8" r="2.8" fill="#3ee03e"/>
<circle cx="328.9" cy="248.4" r="2.8" fill="#1c3ed6"/>
<circle cx="328.9" cy="246.8" r="2.8" fill="#f0195a"/>
<rect x="262.15" y="268.19" width="11.5" height="2" fill="#7a4a8a" stroke="#555" stroke-width="0.6"/>
<circle cx="267.9" cy="272" r="2.8" fill="#f8e27e"/>
<circle cx="267.9" cy="266.9" r="2.8" fill="#c000c8"/>
<rect x="277.4" y="313.22" width="11.5" height="1.7" fill="#a3dccb" stroke="#555" stroke-width="0.6"/>
<line x1="277.4" y1="313.99" x2="288.9" y2="313.99" stroke="#444" stroke-width="0.7"/>
<circle cx="283.15" cy="316.62" r="2.8" fill="#f8e27e"/>
<circle cx="283.15" cy="310.68" r="2.8" fill="#c000c8"/>
<rect x="292.65" y="325.3" width="11.5" height="4.08" fill="#a6dc6c" stroke="#555" stroke-width="0.6"/>
<line x1="292.65" y1="327.68" x2="304.15" y2="327.68" stroke="#444" stroke-width="0.7"/>
<circle cx="298.4" cy="321.3" r="2.8" fill="#556b2f"/>
<circle cx="298.4" cy="325.55" r="2.8" fill="#f27a92"/>
<circle cx="298.4" cy="328.95" r="2.8" fill="#f8e27e"/>
<circle cx="298.4" cy="331.84" r="2.8" fill="#c000c8"/>
<line x1="308.15" y1="317.9" x2="319.15" y2="317.9" stroke="#555" stroke-width="0.8"/>
<circle cx="313.65" cy="317.9" r="2.8" fill="#f8e27e"/>
<line x1="323.4" y1="330.65" x2="334.4" y2="330.65" stroke="#555" stroke-width="1.2"/>
<circle cx="328.9" cy="330.65" r="2.8" fill="#c000c8"/>
<text x="290" y="192.9" font-size="6" stroke="#000" stroke-width="0.22">FDR = 5.00×10<tspan dy="-1.8" font-size="4">−4</tspan></text>
<text x="333.2" y="284.6" font-size="6" text-anchor="end" stroke="#000" stroke-width="0.22">FDR = 0.10</text>
<text x="266" y="251" font-size="6" transform="rotate(-90 266 251)" stroke="#000" stroke-width="0.22">FDR=0.07</text>
<line x1="268.3" y1="227" x2="268.3" y2="257" stroke="#333" stroke-width="0.6"/>
<text x="280.5" y="266.5" font-size="6" transform="rotate(-90 280.5 266.5)" stroke="#000" stroke-width="0.22">FDR=0.03</text>
<line x1="282.6" y1="237.3" x2="282.6" y2="268.3" stroke="#333" stroke-width="0.6"/>
<line x1="364.8" y1="216.62" x2="364.8" y2="198.98" stroke="#555" stroke-width="0.8"/>
<line x1="364.8" y1="231.32" x2="364.8" y2="233.53" stroke="#555" stroke-width="0.8"/>
<rect x="359.05" y="216.62" width="11.5" height="14.7" fill="#b855d4" stroke="#555" stroke-width="0.6"/>
<line x1="359.05" y1="226.18" x2="370.55" y2="226.18" stroke="#444" stroke-width="0.7"/>
<circle cx="364.8" cy="198.98" r="2.8" fill="#268a26"/>
<circle cx="364.8" cy="214.42" r="2.8" fill="#1c3ed6"/>
<circle cx="364.8" cy="221.03" r="2.8" fill="#ff14ff"/>
<circle cx="364.8" cy="231.32" r="2.8" fill="#f4a05c"/>
<circle cx="364.8" cy="233.53" r="2.8" fill="#c25ee8"/>
<line x1="380.05" y1="209.27" x2="380.05" y2="184.28" stroke="#555" stroke-width="0.8"/>
<line x1="380.05" y1="226.18" x2="380.05" y2="233.53" stroke="#555" stroke-width="0.8"/>
<rect x="374.3" y="209.27" width="11.5" height="16.91" fill="#a3dccb" stroke="#555" stroke-width="0.6"/>
<line x1="374.3" y1="220.3" x2="385.8" y2="220.3" stroke="#444" stroke-width="0.7"/>
<circle cx="380.05" cy="184.28" r="2.8" fill="#ff14ff"/>
<circle cx="380.05" cy="203.39" r="2.8" fill="#f0195a"/>
<circle cx="380.05" cy="215.15" r="2.8" fill="#00007a"/>
<circle cx="380.05" cy="221.03" r="2.8" fill="#1c3ed6"/>
<circle cx="380.05" cy="232.06" r="2.8" fill="#3ee03e"/>
<circle cx="380.05" cy="233.53" r="2.8" fill="#c25ee8"/>
<rect x="389.55" y="239.41" width="11.5" height="2.94" fill="#a6dc6c" stroke="#555" stroke-width="0.6"/>
<line x1="389.55" y1="240.88" x2="401.05" y2="240.88" stroke="#444" stroke-width="0.7"/>
<circle cx="395.3" cy="237.94" r="2.8" fill="#f4b0b0"/>
<circle cx="395.3" cy="242.35" r="2.8" fill="#ff1e1e"/>
<circle cx="395.3" cy="244.55" r="2.8" fill="#f0195a"/>
<rect x="404.8" y="237.94" width="11.5" height="6.61" fill="#dc9b6e" stroke="#555" stroke-width="0.6"/>
<line x1="404.8" y1="240.88" x2="416.3" y2="240.88" stroke="#444" stroke-width="0.7"/>
<circle cx="410.55" cy="221.03" r="2.8" fill="#268a26"/>
<circle cx="410.55" cy="236.47" r="2.8" fill="#3ee03e"/>
<circle cx="410.55" cy="238.67" r="2.8" fill="#ff1e1e"/>
<circle cx="410.55" cy="240.88" r="2.8" fill="#f0195a"/>
<circle cx="410.55" cy="243.08" r="2.8" fill="#00007a"/>
<circle cx="410.55" cy="248.23" r="2.8" fill="#f4b0b0"/>
<rect x="420.05" y="243.82" width="11.5" height="4.41" fill="#ae9ed8" stroke="#555" stroke-width="0.6"/>
<line x1="420.05" y1="246.02" x2="431.55" y2="246.02" stroke="#444" stroke-width="0.7"/>
<circle cx="425.8" cy="236.47" r="2.8" fill="#ff1e1e"/>
<circle cx="425.8" cy="241.61" r="2.8" fill="#3ee03e"/>
<circle cx="425.8" cy="245.29" r="2.8" fill="#f0195a"/>
<circle cx="425.8" cy="248.23" r="2.8" fill="#f4a05c"/>
<line x1="359.3" y1="296.59" x2="370.3" y2="296.59" stroke="#555" stroke-width="0.8"/>
<circle cx="364.8" cy="296.59" r="2.8" fill="#c000c8"/>
<line x1="380.05" y1="275.64" x2="380.05" y2="267.66" stroke="#555" stroke-width="0.8"/>
<line x1="380.05" y1="290.61" x2="380.05" y2="299.58" stroke="#555" stroke-width="0.8"/>
<rect x="374.3" y="275.64" width="11.5" height="14.96" fill="#a3dccb" stroke="#555" stroke-width="0.6"/>
<line x1="374.3" y1="283.62" x2="385.8" y2="283.62" stroke="#444" stroke-width="0.7"/>
<circle cx="380.05" cy="267.66" r="2.8" fill="#f8e27e"/>
<circle cx="380.05" cy="299.58" r="2.8" fill="#c000c8"/>
<rect x="389.55" y="315.55" width="11.5" height="15.96" fill="#a6dc6c" stroke="#555" stroke-width="0.6"/>
<line x1="389.55" y1="325.52" x2="401.05" y2="325.52" stroke="#444" stroke-width="0.7"/>
<circle cx="395.3" cy="312.75" r="2.8" fill="#556b2f"/>
<circle cx="395.3" cy="315.94" r="2.8" fill="#c000c8"/>
<circle cx="395.3" cy="325.12" r="2.8" fill="#f27a92"/>
<circle cx="395.3" cy="331.9" r="2.8" fill="#c000c8"/>
<line x1="405.05" y1="325.12" x2="416.05" y2="325.12" stroke="#555" stroke-width="0.8"/>
<circle cx="410.55" cy="325.12" r="2.8" fill="#f8e27e"/>
<rect x="420.05" y="329.51" width="11.5" height="2" fill="#ae9ed8" stroke="#555" stroke-width="0.6"/>
<line x1="420.05" y1="330.51" x2="431.55" y2="330.51" stroke="#444" stroke-width="0.7"/>
<circle cx="425.8" cy="326.72" r="2.8" fill="#c000c8"/>
<circle cx="425.8" cy="331.11" r="2.8" fill="#c000c8"/>
<text x="387.1" y="193.1" font-size="6" stroke="#000" stroke-width="0.22">FDR = 5.00×10<tspan dy="-1.8" font-size="4">−4</tspan></text>
<text x="428.7" y="273.7" font-size="6" text-anchor="end" stroke="#000" stroke-width="0.22">FDR = 0.11</text>
<line x1="465.8" y1="222.9" x2="465.8" y2="217.38" stroke="#555" stroke-width="0.8"/>
<line x1="465.8" y1="241.88" x2="465.8" y2="247.05" stroke="#555" stroke-width="0.8"/>
<rect x="460.05" y="222.9" width="11.5" height="18.97" fill="#b855d4" stroke="#555" stroke-width="0.6"/>
<line x1="460.05" y1="233.25" x2="471.55" y2="233.25" stroke="#444" stroke-width="0.7"/>
<circle cx="465.8" cy="218.07" r="2.8" fill="#00007a"/>
<circle cx="465.8" cy="221.18" r="2.8" fill="#ff14ff"/>
<circle cx="465.8" cy="231.53" r="2.8" fill="#1c3ed6"/>
<circle cx="465.8" cy="236.01" r="2.8" fill="#f4a05c"/>
<circle cx="465.8" cy="244.01" r="2.8" fill="#268a26"/>
<circle cx="465.8" cy="246.5" r="2.8" fill="#c25ee8"/>
<line x1="481.05" y1="227.04" x2="481.05" y2="214.62" stroke="#555" stroke-width="0.8"/>
<line x1="481.05" y1="245.67" x2="481.05" y2="249.12" stroke="#555" stroke-width="0.8"/>
<rect x="475.3" y="227.04" width="11.5" height="18.63" fill="#a3dccb" stroke="#555" stroke-width="0.6"/>
<line x1="475.3" y1="242.22" x2="486.8" y2="242.22" stroke="#444" stroke-width="0.7"/>
<circle cx="481.05" cy="214.62" r="2.8" fill="#3ee03e"/>
<circle cx="481.05" cy="222.21" r="2.8" fill="#c25ee8"/>
<circle cx="481.05" cy="240.15" r="2.8" fill="#00007a"/>
<circle cx="481.05" cy="243.6" r="2.8" fill="#f4a05c"/>
<circle cx="481.05" cy="246.36" r="2.8" fill="#1c3ed6"/>
<circle cx="481.05" cy="249.12" r="2.8" fill="#f0195a"/>
<rect x="490.55" y="195.3" width="11.5" height="2.07" fill="#a6dc6c" stroke="#555" stroke-width="0.6"/>
<line x1="490.55" y1="196.34" x2="502.05" y2="196.34" stroke="#444" stroke-width="0.7"/>
<circle cx="496.3" cy="193.23" r="2.8" fill="#f4b0b0"/>
<circle cx="496.3" cy="196.68" r="2.8" fill="#ff1e1e"/>
<circle cx="496.3" cy="198.75" r="2.8" fill="#f0195a"/>
<rect x="505.8" y="187.71" width="11.5" height="17.25" fill="#dc9b6e" stroke="#555" stroke-width="0.6"/>
<line x1="505.8" y1="200.13" x2="517.3" y2="200.13" stroke="#444" stroke-width="0.7"/>
<circle cx="511.55" cy="184.95" r="2.8" fill="#f4a05c"/>
<circle cx="511.55" cy="189.09" r="2.8" fill="#00007a"/>
<circle cx="511.55" cy="200.13" r="2.8" fill="#f0195a"/>
<circle cx="511.55" cy="207.03" r="2.8" fill="#e8169a"/>
<circle cx="511.55" cy="204.27" r="2.8" fill="#3ee03e"/>
<circle cx="511.55" cy="211.86" r="2.8" fill="#268a26"/>
<rect x="521.05" y="186.33" width="11.5" height="4.83" fill="#ae9ed8" stroke="#555" stroke-width="0.6"/>
<line x1="521.05" y1="189.09" x2="532.55" y2="189.09" stroke="#444" stroke-width="0.7"/>
<circle cx="526.8" cy="184.26" r="2.8" fill="#1c3ed6"/>
<circle cx="526.8" cy="186.33" r="2.8" fill="#f4a05c"/>
<circle cx="526.8" cy="193.23" r="2.8" fill="#3ee03e"/>
<circle cx="526.8" cy="189.09" r="2.8" fill="#ff1e1e"/>
<circle cx="526.8" cy="188.4" r="2.8" fill="#f0195a"/>
<circle cx="526.8" cy="214.62" r="2.8" fill="#ff1e1e"/>
<line x1="465.8" y1="319.06" x2="465.8" y2="314.05" stroke="#555" stroke-width="0.8"/>
<line x1="465.8" y1="327.3" x2="465.8" y2="331.95" stroke="#555" stroke-width="0.8"/>
<rect x="460.05" y="319.06" width="11.5" height="8.23" fill="#b855d4" stroke="#555" stroke-width="0.6"/>
<line x1="460.05" y1="323.36" x2="471.55" y2="323.36" stroke="#444" stroke-width="0.7"/>
<circle cx="465.8" cy="314.05" r="2.8" fill="#f8e27e"/>
<circle cx="465.8" cy="331.95" r="2.8" fill="#c000c8"/>
<rect x="475.3" y="297.3" width="11.5" height="2" fill="#8a8a8a" stroke="#555" stroke-width="0.6"/>
<circle cx="481.05" cy="299.73" r="2.8" fill="#f8e27e"/>
<circle cx="481.05" cy="296.87" r="2.8" fill="#c000c8"/>
<line x1="496.3" y1="271.09" x2="496.3" y2="269.66" stroke="#555" stroke-width="0.8"/>
<line x1="496.3" y1="276.82" x2="496.3" y2="282.55" stroke="#555" stroke-width="0.8"/>
<rect x="490.55" y="271.09" width="11.5" height="5.73" fill="#a6dc6c" stroke="#555" stroke-width="0.6"/>
<line x1="490.55" y1="273.96" x2="502.05" y2="273.96" stroke="#444" stroke-width="0.7"/>
<circle cx="496.3" cy="269.66" r="2.8" fill="#f8e27e"/>
<circle cx="496.3" cy="271.09" r="2.8" fill="#c000c8"/>
<circle cx="496.3" cy="273.96" r="2.8" fill="#f27a92"/>
<circle cx="496.3" cy="276.46" r="2.8" fill="#c000c8"/>
<circle cx="496.3" cy="282.55" r="2.8" fill="#556b2f"/>
<line x1="506.05" y1="278.25" x2="517.05" y2="278.25" stroke="#555" stroke-width="0.8"/>
<circle cx="511.55" cy="278.25" r="2.8" fill="#f8e27e"/>
<rect x="521.05" y="268.66" width="11.5" height="2" fill="#8a8a8a" stroke="#555" stroke-width="0.6"/>
<circle cx="526.8" cy="267.87" r="2.8" fill="#f8e27e"/>
<circle cx="526.8" cy="271.09" r="2.8" fill="#c000c8"/>
<text x="460" y="189" font-size="6" stroke="#000" stroke-width="0.22">FDR = 5.00×10<tspan dy="-1.8" font-size="4">−4</tspan></text>
<text x="528.7" y="323.5" font-size="6" text-anchor="end" stroke="#000" stroke-width="0.22">FDR = 0.10</text>
<text x="478.8" y="284" font-size="6" transform="rotate(-90 478.8 284)" stroke="#000" stroke-width="0.22">FDR=0.06</text>
<line x1="480.2" y1="255.5" x2="480.2" y2="285.7" stroke="#333" stroke-width="0.6"/>
<rect x="560.95" y="245" width="11.5" height="3" fill="#7a4a8a" stroke="#555" stroke-width="0.6"/>
<line x1="560.95" y1="246.5" x2="572.45" y2="246.5" stroke="#444" stroke-width="0.7"/>
<circle cx="566.7" cy="243.5" r="2.8" fill="#1c3ed6"/>
<circle cx="566.7" cy="249.5" r="2.8" fill="#268a26"/>
<line x1="581.95" y1="204.5" x2="581.95" y2="185" stroke="#555" stroke-width="0.8"/>
<line x1="581.95" y1="234.5" x2="581.95" y2="246" stroke="#555" stroke-width="0.8"/>
<rect x="576.2" y="204.5" width="11.5" height="30" fill="#a3dccb" stroke="#555" stroke-width="0.6"/>
<line x1="576.2" y1="223.5" x2="587.7" y2="223.5" stroke="#444" stroke-width="0.7"/>
<circle cx="581.95" cy="185" r="2.8" fill="#3ee03e"/>
<circle cx="581.95" cy="223.5" r="2.8" fill="#ff14ff"/>
<circle cx="581.95" cy="246" r="2.8" fill="#f4a05c"/>
<rect x="591.45" y="234.5" width="11.5" height="6.5" fill="#a6dc6c" stroke="#555" stroke-width="0.6"/>
<line x1="591.45" y1="237" x2="602.95" y2="237" stroke="#444" stroke-width="0.7"/>
<circle cx="597.2" cy="229.5" r="2.8" fill="#f0195a"/>
<circle cx="597.2" cy="241" r="2.8" fill="#f0195a"/>
<rect x="606.7" y="236" width="11.5" height="8" fill="#dc9b6e" stroke="#555" stroke-width="0.6"/>
<line x1="606.7" y1="238.5" x2="618.2" y2="238.5" stroke="#444" stroke-width="0.7"/>
<circle cx="612.45" cy="221" r="2.8" fill="#ff1e1e"/>
<circle cx="612.45" cy="229.5" r="2.8" fill="#00007a"/>
<circle cx="612.45" cy="237.5" r="2.8" fill="#e8169a"/>
<circle cx="612.45" cy="243.5" r="2.8" fill="#3ee03e"/>
<circle cx="612.45" cy="245" r="2.8" fill="#268a26"/>
<circle cx="612.45" cy="248" r="2.8" fill="#f0195a"/>
<rect x="621.95" y="234" width="11.5" height="2" fill="#8a8a8a" stroke="#555" stroke-width="0.6"/>
<line x1="621.95" y1="235" x2="633.45" y2="235" stroke="#444" stroke-width="0.7"/>
<circle cx="627.7" cy="238" r="2.8" fill="#00007a"/>
<circle cx="627.7" cy="236" r="2.8" fill="#f4a05c"/>
<circle cx="627.7" cy="231" r="2.8" fill="#f0195a"/>
<line x1="576.45" y1="317.98" x2="587.45" y2="317.98" stroke="#555" stroke-width="0.8"/>
<circle cx="581.95" cy="317.98" r="2.8" fill="#c000c8"/>
<line x1="597.2" y1="319.56" x2="597.2" y2="329.8" stroke="#555" stroke-width="0.8"/>
<rect x="591.45" y="310.1" width="11.5" height="9.46" fill="#a6dc6c" stroke="#555" stroke-width="0.6"/>
<line x1="591.45" y1="317.2" x2="602.95" y2="317.2" stroke="#444" stroke-width="0.7"/>
<circle cx="597.2" cy="277.8" r="2.8" fill="#c000c8"/>
<circle cx="597.2" cy="310.1" r="2.8" fill="#f27a92"/>
<circle cx="597.2" cy="317.2" r="2.8" fill="#556b2f"/>
<circle cx="597.2" cy="319.56" r="2.8" fill="#c000c8"/>
<circle cx="597.2" cy="329.8" r="2.8" fill="#f8e27e"/>
<line x1="627.7" y1="291.98" x2="627.7" y2="266.76" stroke="#555" stroke-width="0.8"/>
<line x1="627.7" y1="324.29" x2="627.7" y2="331.38" stroke="#555" stroke-width="0.8"/>
<rect x="621.95" y="291.98" width="11.5" height="32.31" fill="#ae9ed8" stroke="#555" stroke-width="0.6"/>
<line x1="621.95" y1="316.41" x2="633.45" y2="316.41" stroke="#444" stroke-width="0.7"/>
<circle cx="627.7" cy="266.76" r="2.8" fill="#c000c8"/>
<circle cx="627.7" cy="316.41" r="2.8" fill="#f8e27e"/>
<circle cx="627.7" cy="331.38" r="2.8" fill="#c000c8"/>
<text x="622.5" y="187.7" font-size="6" text-anchor="end" stroke="#000" stroke-width="0.22">FDR = 0.25</text>
<text x="604.3" y="269.6" font-size="6" text-anchor="end" stroke="#000" stroke-width="0.22">FDR = 0.91</text>
<text x="639.6" y="186.6" font-size="7" stroke="#000" stroke-width="0.22">Patient</text>
<circle cx="645.4" cy="197.2" r="2.8" fill="#f0195a"/>
<text x="655.1" y="199.7" font-size="7" stroke="#000" stroke-width="0.22">ICI_PT10</text>
<circle cx="645.4" cy="209.05" r="2.8" fill="#3ee03e"/>
<text x="655.1" y="211.55" font-size="7" stroke="#000" stroke-width="0.22">ICI_PT13</text>
<circle cx="645.4" cy="220.9" r="2.8" fill="#f4b0b0"/>
<text x="655.1" y="223.4" font-size="7" stroke="#000" stroke-width="0.22">ICI_PT14</text>
<circle cx="645.4" cy="232.75" r="2.8" fill="#ff1e1e"/>
<text x="655.1" y="235.25" font-size="7" stroke="#000" stroke-width="0.22">ICI_PT15</text>
<circle cx="645.4" cy="244.6" r="2.8" fill="#c25ee8"/>
<text x="655.1" y="247.1" font-size="7" stroke="#000" stroke-width="0.22">ICI_PT16</text>
<circle cx="645.4" cy="256.45" r="2.8" fill="#e8169a"/>
<text x="655.1" y="258.95" font-size="7" stroke="#000" stroke-width="0.22">ICI_PT17</text>
<circle cx="645.4" cy="268.3" r="2.8" fill="#1c3ed6"/>
<text x="655.1" y="270.8" font-size="7" stroke="#000" stroke-width="0.22">ICI_PT19</text>
<circle cx="645.4" cy="280.15" r="2.8" fill="#268a26"/>
<text x="655.1" y="282.65" font-size="7" stroke="#000" stroke-width="0.22">ICI_PT3</text>
<circle cx="645.4" cy="292" r="2.8" fill="#ff14ff"/>
<text x="655.1" y="294.5" font-size="7" stroke="#000" stroke-width="0.22">ICI_PT4</text>
<circle cx="645.4" cy="303.85" r="2.8" fill="#00007a"/>
<text x="655.1" y="306.35" font-size="7" stroke="#000" stroke-width="0.22">ICI_PT7</text>
<circle cx="645.4" cy="315.7" r="2.8" fill="#f4a05c"/>
<text x="655.1" y="318.2" font-size="7" stroke="#000" stroke-width="0.22">ICI_PT9</text>
<text x="235" y="399.5" font-size="12" stroke="#000" stroke-width="0.22">f</text>
<text x="401.9" y="412.4" font-size="10.7" text-anchor="middle" stroke="#000" stroke-width="0.22">Combined irAE patients</text>
<rect x="324.5" y="417.1" width="152.7" height="154" fill="none" stroke="#333" stroke-width="1"/>
<line x1="321" y1="571.5" x2="324.5" y2="571.5" stroke="#666" stroke-width="0.8"/>
<text x="318.2" y="574.6" font-size="8.8" text-anchor="end" fill="#111" stroke="#111" stroke-width="0.22">3</text>
<line x1="321" y1="530.4" x2="324.5" y2="530.4" stroke="#666" stroke-width="0.8"/>
<text x="318.2" y="533.5" font-size="8.8" text-anchor="end" fill="#111" stroke="#111" stroke-width="0.22">6</text>
<line x1="321" y1="489.3" x2="324.5" y2="489.3" stroke="#666" stroke-width="0.8"/>
<text x="318.2" y="492.4" font-size="8.8" text-anchor="end" fill="#111" stroke="#111" stroke-width="0.22">9</text>
<line x1="321" y1="448.2" x2="324.5" y2="448.2" stroke="#666" stroke-width="0.8"/>
<text x="318.2" y="451.3" font-size="8.8" text-anchor="end" fill="#111" stroke="#111" stroke-width="0.22">12</text>
<text x="385.8" y="427.9" font-size="8.4" text-anchor="middle" stroke="#000" stroke-width="0.22">FDR = 0.06</text>
<line x1="341.5" y1="571.1" x2="341.5" y2="573.6" stroke="#222" stroke-width="0.7"/>
<rect x="330.3" y="534.24" width="22.4" height="7.12" fill="#b855d4" stroke="#333" stroke-width="1.2"/>
<line x1="330.3" y1="538.35" x2="352.7" y2="538.35" stroke="#333" stroke-width="2"/>
<circle cx="341.5" cy="525.19" r="2.85" fill="#c25ee8"/>
<circle cx="341.5" cy="532.04" r="2.85" fill="#1c3ed6"/>
<circle cx="341.5" cy="542.73" r="2.85" fill="#f4a05c"/>
<circle cx="341.5" cy="539.99" r="2.85" fill="#268a26"/>
<line x1="370.9" y1="571.1" x2="370.9" y2="573.6" stroke="#222" stroke-width="0.7"/>
<line x1="370.9" y1="510.54" x2="370.9" y2="489.3" stroke="#333" stroke-width="1.3"/>
<line x1="370.9" y1="534.51" x2="370.9" y2="546.84" stroke="#333" stroke-width="1.3"/>
<rect x="359.7" y="510.54" width="22.4" height="23.97" fill="#a3dccb" stroke="#333" stroke-width="1.2"/>
<line x1="359.7" y1="519.44" x2="382.1" y2="519.44" stroke="#333" stroke-width="2"/>
<circle cx="370.9" cy="489.3" r="2.85" fill="#f0195a"/>
<circle cx="370.9" cy="504.37" r="2.85" fill="#ff14ff"/>
<circle cx="370.9" cy="516.01" r="2.85" fill="#3ee03e"/>
<circle cx="370.9" cy="519.44" r="2.85" fill="#f4a05c"/>
<circle cx="370.9" cy="529.03" r="2.85" fill="#c25ee8"/>
<circle cx="370.9" cy="539.99" r="2.85" fill="#1c3ed6"/>
<circle cx="370.9" cy="546.84" r="2.85" fill="#00007a"/>
<line x1="400.3" y1="571.1" x2="400.3" y2="573.6" stroke="#222" stroke-width="0.7"/>
<rect x="389.1" y="520.81" width="22.4" height="3.43" fill="#a6dc6c" stroke="#333" stroke-width="1.2"/>
<line x1="389.1" y1="522.87" x2="411.5" y2="522.87" stroke="#333" stroke-width="2"/>
<circle cx="400.3" cy="518.07" r="2.85" fill="#f4b0b0"/>
<circle cx="400.3" cy="524.24" r="2.85" fill="#f0195a"/>
<line x1="429.7" y1="571.1" x2="429.7" y2="573.6" stroke="#222" stroke-width="0.7"/>
<line x1="429.7" y1="497.52" x2="429.7" y2="491.36" stroke="#333" stroke-width="1.3"/>
<line x1="429.7" y1="518.75" x2="429.7" y2="533.14" stroke="#333" stroke-width="1.3"/>
<rect x="418.5" y="497.52" width="22.4" height="21.24" fill="#dc9b6e" stroke="#333" stroke-width="1.2"/>
<line x1="418.5" y1="508.48" x2="440.9" y2="508.48" stroke="#333" stroke-width="2"/>
<circle cx="429.7" cy="423.54" r="2.85" fill="#00007a"/>
<circle cx="429.7" cy="491.36" r="2.85" fill="#e8169a"/>
<circle cx="429.7" cy="499.57" r="2.85" fill="#3ee03e"/>
<circle cx="429.7" cy="516.7" r="2.85" fill="#f4a05c"/>
<circle cx="429.7" cy="506.43" r="2.85" fill="#f0195a"/>
<circle cx="429.7" cy="509.85" r="2.85" fill="#ff1e1e"/>
<circle cx="429.7" cy="526.29" r="2.85" fill="#268a26"/>
<circle cx="429.7" cy="533.14" r="2.85" fill="#f4b0b0"/>
<line x1="459.1" y1="571.1" x2="459.1" y2="573.6" stroke="#222" stroke-width="0.7"/>
<line x1="459.1" y1="520.12" x2="459.1" y2="513.96" stroke="#333" stroke-width="1.3"/>
<line x1="459.1" y1="534.51" x2="459.1" y2="539.99" stroke="#333" stroke-width="1.3"/>
<rect x="447.9" y="520.12" width="22.4" height="14.38" fill="#ae9ed8" stroke="#333" stroke-width="1.2"/>
<line x1="447.9" y1="529.03" x2="470.3" y2="529.03" stroke="#333" stroke-width="2"/>
<circle cx="459.1" cy="513.96" r="2.85" fill="#ff1e1e"/>
<circle cx="459.1" cy="516.01" r="2.85" fill="#3ee03e"/>
<circle cx="459.1" cy="526.29" r="2.85" fill="#00007a"/>
<circle cx="459.1" cy="527.66" r="2.85" fill="#1c3ed6"/>
<circle cx="459.1" cy="529.72" r="2.85" fill="#f0195a"/>
<circle cx="459.1" cy="539.99" r="2.85" fill="#f4b0b0"/>
<circle cx="459.1" cy="564.65" r="2.85" fill="#268a26"/>
<text x="340.5" y="578.6" font-size="8" text-anchor="end" transform="rotate(-90 340.5 578.6)" stroke="#000" stroke-width="0.22">Pre−radio</text>
<text x="349.7" y="578.6" font-size="8" text-anchor="end" transform="rotate(-90 349.7 578.6)" stroke="#000" stroke-width="0.22">tumor</text>
<text x="369.9" y="578.6" font-size="8" text-anchor="end" transform="rotate(-90 369.9 578.6)" stroke="#000" stroke-width="0.22">On−radio</text>
<text x="379.1" y="578.6" font-size="8" text-anchor="end" transform="rotate(-90 379.1 578.6)" stroke="#000" stroke-width="0.22">tumor</text>
<text x="399.3" y="578.6" font-size="8" text-anchor="end" transform="rotate(-90 399.3 578.6)" stroke="#000" stroke-width="0.22">Pre−radio</text>
<text x="408.5" y="578.6" font-size="8" text-anchor="end" transform="rotate(-90 408.5 578.6)" stroke="#000" stroke-width="0.22">PBMC</text>
<text x="428.7" y="578.6" font-size="8" text-anchor="end" transform="rotate(-90 428.7 578.6)" stroke="#000" stroke-width="0.22">Pre−imm</text>
<text x="437.9" y="578.6" font-size="8" text-anchor="end" transform="rotate(-90 437.9 578.6)" stroke="#000" stroke-width="0.22">PBMC</text>
<text x="458.1" y="578.6" font-size="8" text-anchor="end" transform="rotate(-90 458.1 578.6)" stroke="#000" stroke-width="0.22">On−imm</text>
<text x="467.3" y="578.6" font-size="8" text-anchor="end" transform="rotate(-90 467.3 578.6)" stroke="#000" stroke-width="0.22">PBMC</text>
<text x="588.8" y="412.4" font-size="10.7" text-anchor="middle" stroke="#000" stroke-width="0.22">Combined non−irAE patients</text>
<rect x="512.6" y="417.1" width="152.3" height="153.7" fill="none" stroke="#333" stroke-width="1"/>
<line x1="509.1" y1="565.5" x2="512.6" y2="565.5" stroke="#666" stroke-width="0.8"/>
<text x="506.3" y="568.6" font-size="8.8" text-anchor="end" fill="#111" stroke="#111" stroke-width="0.22">5</text>
<line x1="509.1" y1="522.25" x2="512.6" y2="522.25" stroke="#666" stroke-width="0.8"/>
<text x="506.3" y="525.35" font-size="8.8" text-anchor="end" fill="#111" stroke="#111" stroke-width="0.22">6</text>
<line x1="509.1" y1="479" x2="512.6" y2="479" stroke="#666" stroke-width="0.8"/>
<text x="506.3" y="482.1" font-size="8.8" text-anchor="end" fill="#111" stroke="#111" stroke-width="0.22">7</text>
<line x1="509.1" y1="435.75" x2="512.6" y2="435.75" stroke="#666" stroke-width="0.8"/>
<text x="506.3" y="438.85" font-size="8.8" text-anchor="end" fill="#111" stroke="#111" stroke-width="0.22">8</text>
<text x="573.9" y="427.9" font-size="8.4" text-anchor="middle" stroke="#000" stroke-width="0.22">FDR = 0.24</text>
<line x1="529.6" y1="570.8" x2="529.6" y2="573.3" stroke="#222" stroke-width="0.7"/>
<line x1="529.6" y1="530.9" x2="529.6" y2="520.09" stroke="#333" stroke-width="1.3"/>
<line x1="529.6" y1="553.39" x2="529.6" y2="564.63" stroke="#333" stroke-width="1.3"/>
<rect x="518.4" y="530.9" width="22.4" height="22.49" fill="#b855d4" stroke="#333" stroke-width="1.2"/>
<line x1="518.4" y1="541.71" x2="540.8" y2="541.71" stroke="#333" stroke-width="2"/>
<circle cx="529.6" cy="520.09" r="2.85" fill="#f8e27e"/>
<circle cx="529.6" cy="564.63" r="2.85" fill="#c000c8"/>
<line x1="559" y1="570.8" x2="559" y2="573.3" stroke="#222" stroke-width="0.7"/>
<line x1="559" y1="470.35" x2="559" y2="453.05" stroke="#333" stroke-width="1.3"/>
<line x1="559" y1="504.95" x2="559" y2="522.25" stroke="#333" stroke-width="1.3"/>
<rect x="547.8" y="470.35" width="22.4" height="34.6" fill="#a3dccb" stroke="#333" stroke-width="1.2"/>
<line x1="547.8" y1="487.65" x2="570.2" y2="487.65" stroke="#333" stroke-width="2"/>
<circle cx="559" cy="453.05" r="2.85" fill="#f8e27e"/>
<circle cx="559" cy="522.25" r="2.85" fill="#c000c8"/>
<line x1="588.4" y1="570.8" x2="588.4" y2="573.3" stroke="#222" stroke-width="0.7"/>
<line x1="588.4" y1="480.3" x2="588.4" y2="468.19" stroke="#333" stroke-width="1.3"/>
<line x1="588.4" y1="520.09" x2="588.4" y2="524.41" stroke="#333" stroke-width="1.3"/>
<rect x="577.2" y="480.3" width="22.4" height="39.79" fill="#a6dc6c" stroke="#333" stroke-width="1.2"/>
<line x1="577.2" y1="483.32" x2="599.6" y2="483.32" stroke="#333" stroke-width="2"/>
<circle cx="588.4" cy="468.19" r="2.85" fill="#f8e27e"/>
<circle cx="588.4" cy="480.3" r="2.85" fill="#556b2f"/>
<circle cx="588.4" cy="484.19" r="2.85" fill="#c000c8"/>
<circle cx="588.4" cy="520.09" r="2.85" fill="#f27a92"/>
<circle cx="588.4" cy="524.41" r="2.85" fill="#c000c8"/>
<line x1="617.8" y1="570.8" x2="617.8" y2="573.3" stroke="#222" stroke-width="0.7"/>
<line x1="606.8" y1="470.35" x2="628.8" y2="470.35" stroke="#333" stroke-width="1.8"/>
<circle cx="617.8" cy="470.35" r="2.85" fill="#f8e27e"/>
<line x1="647.2" y1="570.8" x2="647.2" y2="573.3" stroke="#222" stroke-width="0.7"/>
<line x1="647.2" y1="445.26" x2="647.2" y2="423.64" stroke="#333" stroke-width="1.3"/>
<line x1="647.2" y1="472.51" x2="647.2" y2="477.7" stroke="#333" stroke-width="1.3"/>
<rect x="636" y="445.26" width="22.4" height="27.25" fill="#ae9ed8" stroke="#333" stroke-width="1.2"/>
<line x1="636" y1="467.32" x2="658.4" y2="467.32" stroke="#333" stroke-width="2"/>
<circle cx="647.2" cy="423.64" r="2.85" fill="#c000c8"/>
<circle cx="647.2" cy="466.89" r="2.85" fill="#f8e27e"/>
<circle cx="647.2" cy="477.7" r="2.85" fill="#c000c8"/>
<text x="528.6" y="578.3" font-size="8" text-anchor="end" transform="rotate(-90 528.6 578.3)" stroke="#000" stroke-width="0.22">Pre−radio</text>
<text x="537.8" y="578.3" font-size="8" text-anchor="end" transform="rotate(-90 537.8 578.3)" stroke="#000" stroke-width="0.22">tumor</text>
<text x="558" y="578.3" font-size="8" text-anchor="end" transform="rotate(-90 558 578.3)" stroke="#000" stroke-width="0.22">On−radio</text>
<text x="567.2" y="578.3" font-size="8" text-anchor="end" transform="rotate(-90 567.2 578.3)" stroke="#000" stroke-width="0.22">tumor</text>
<text x="587.4" y="578.3" font-size="8" text-anchor="end" transform="rotate(-90 587.4 578.3)" stroke="#000" stroke-width="0.22">Pre−radio</text>
<text x="596.6" y="578.3" font-size="8" text-anchor="end" transform="rotate(-90 596.6 578.3)" stroke="#000" stroke-width="0.22">PBMC</text>
<text x="616.8" y="578.3" font-size="8" text-anchor="end" transform="rotate(-90 616.8 578.3)" stroke="#000" stroke-width="0.22">Pre−imm</text>
<text x="626" y="578.3" font-size="8" text-anchor="end" transform="rotate(-90 626 578.3)" stroke="#000" stroke-width="0.22">PBMC</text>
<text x="646.2" y="578.3" font-size="8" text-anchor="end" transform="rotate(-90 646.2 578.3)" stroke="#000" stroke-width="0.22">On−imm</text>
<text x="655.4" y="578.3" font-size="8" text-anchor="end" transform="rotate(-90 655.4 578.3)" stroke="#000" stroke-width="0.22">PBMC</text>
<text x="292" y="498.7" font-size="9.5" text-anchor="middle" transform="rotate(-90 292 498.7)" stroke="#000" stroke-width="0.22">Average SHM frequency of</text>
<text x="304" y="498" font-size="9.5" text-anchor="middle" transform="rotate(-90 304 498)" stroke="#000" stroke-width="0.22">IgA+ and IgG+ cells (%)</text>
</svg></body></html>
